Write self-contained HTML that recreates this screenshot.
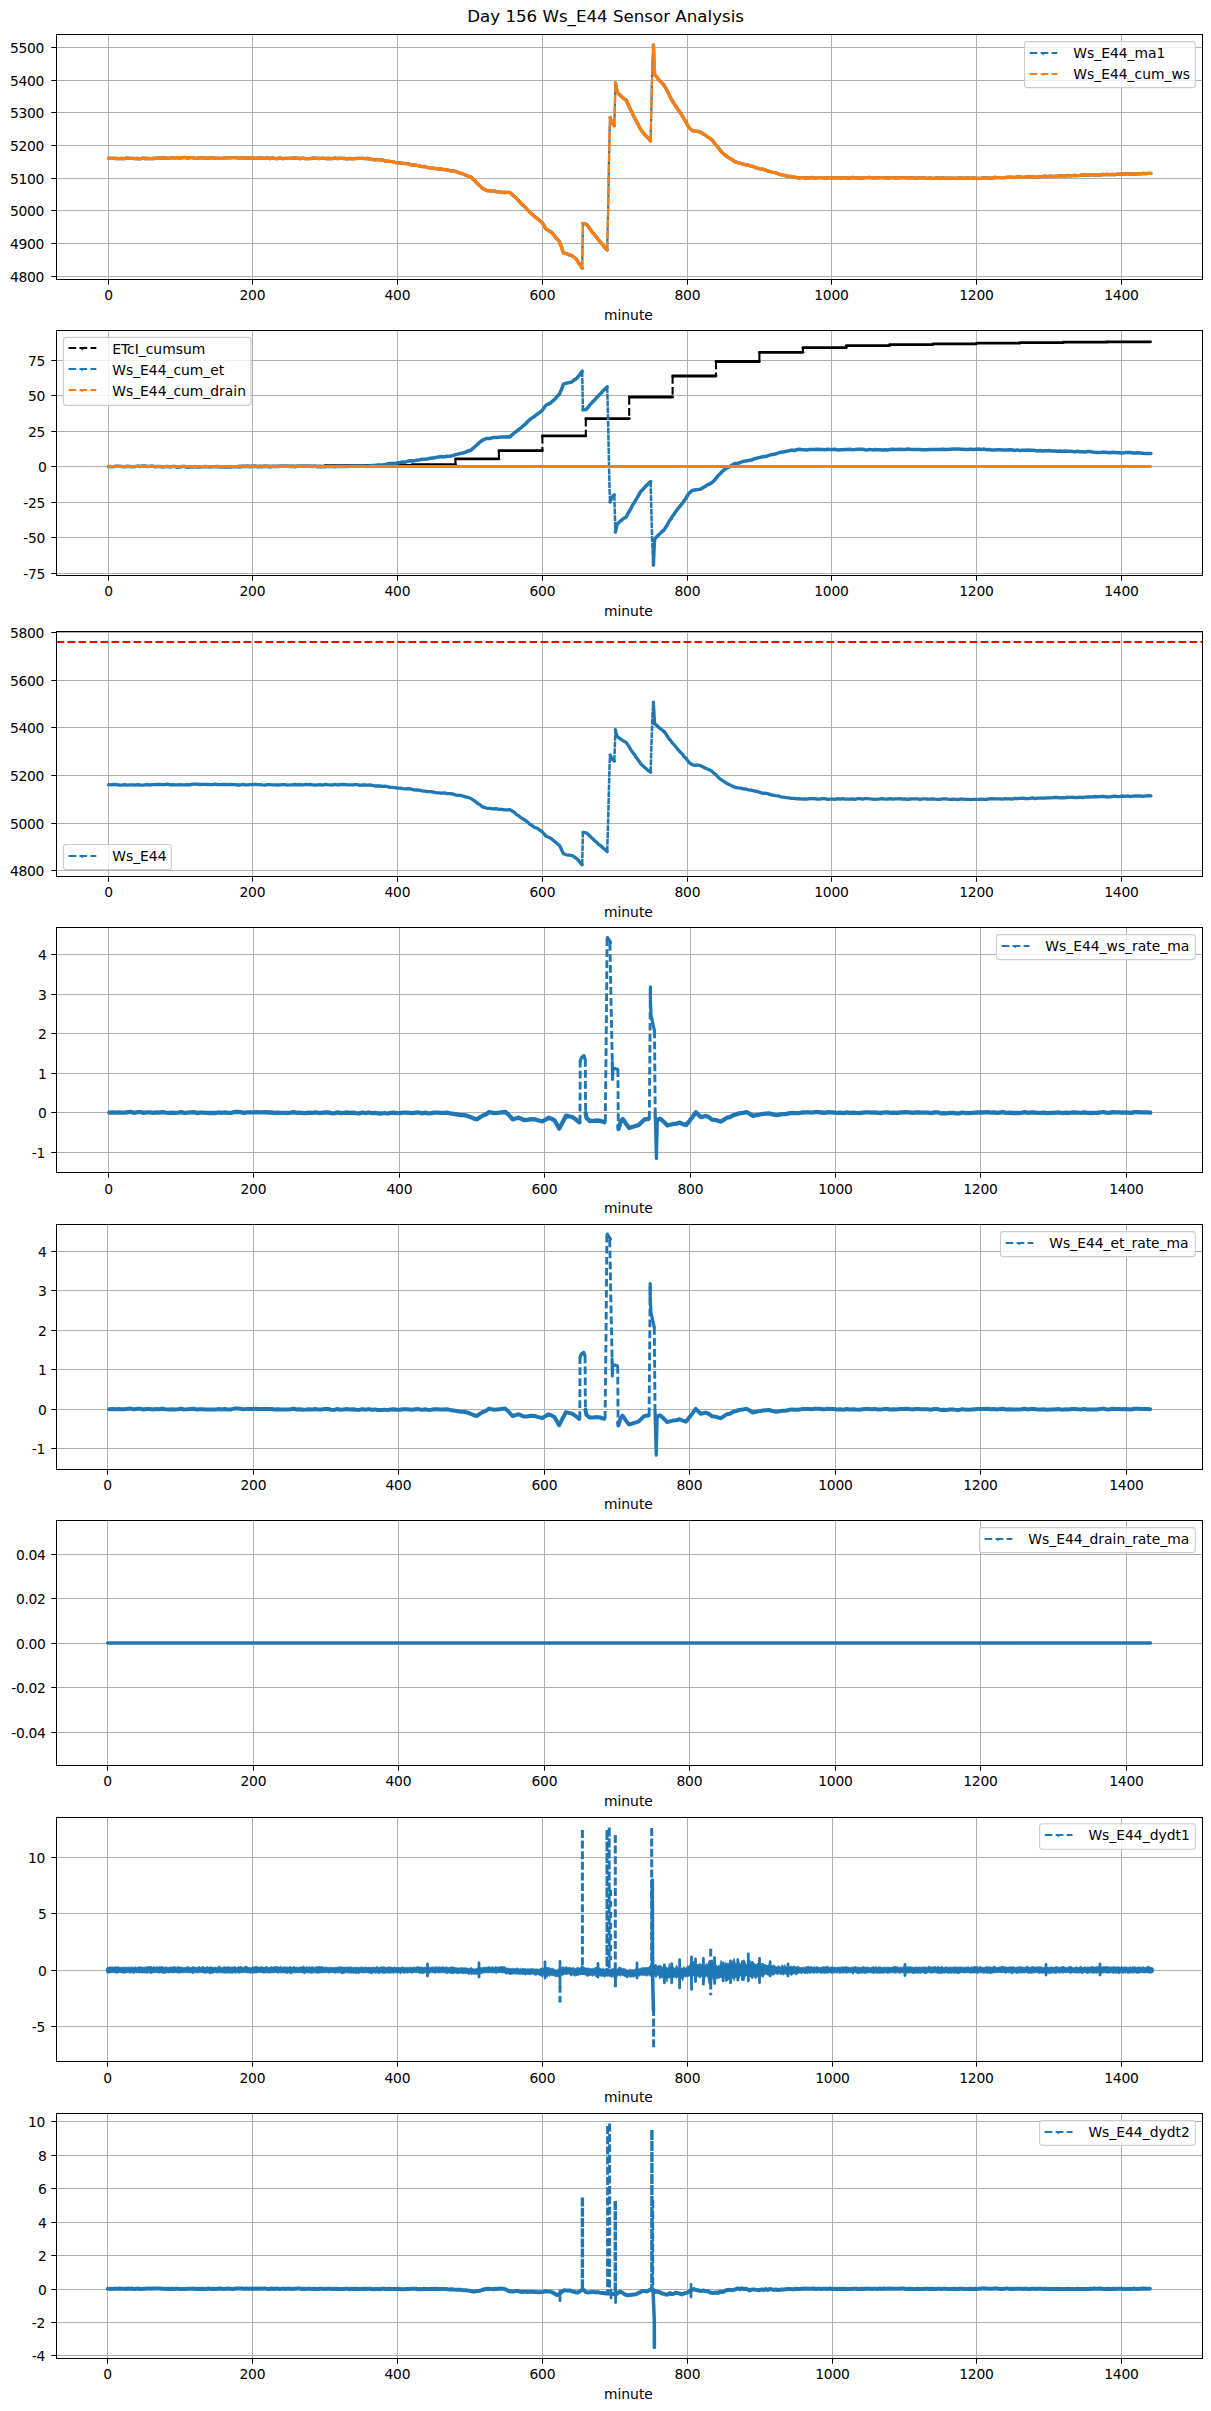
<!DOCTYPE html>
<html><head><meta charset="utf-8"><title>Day 156 Ws_E44 Sensor Analysis</title>
<style>html,body{margin:0;padding:0;background:#fff}svg{display:block}text{font-family:"DejaVu Sans","Liberation Sans",sans-serif;font-size:13.89px;fill:#000}.tk{letter-spacing:-0.3px}</style>
</head><body>
<svg width="1211" height="2411" viewBox="0 0 1211 2411">
<rect width="1211" height="2411" fill="#fff"/>
<text x="605.6" y="21.9" text-anchor="middle" style="font-size:16.67px">Day 156 Ws_E44 Sensor Analysis</text>
<line x1="108.5" y1="34.5" x2="108.5" y2="279.5" stroke="#b0b0b0" stroke-width="1"/>
<line x1="252.5" y1="34.5" x2="252.5" y2="279.5" stroke="#b0b0b0" stroke-width="1"/>
<line x1="397.5" y1="34.5" x2="397.5" y2="279.5" stroke="#b0b0b0" stroke-width="1"/>
<line x1="542.5" y1="34.5" x2="542.5" y2="279.5" stroke="#b0b0b0" stroke-width="1"/>
<line x1="687.5" y1="34.5" x2="687.5" y2="279.5" stroke="#b0b0b0" stroke-width="1"/>
<line x1="831.5" y1="34.5" x2="831.5" y2="279.5" stroke="#b0b0b0" stroke-width="1"/>
<line x1="976.5" y1="34.5" x2="976.5" y2="279.5" stroke="#b0b0b0" stroke-width="1"/>
<line x1="1121.5" y1="34.5" x2="1121.5" y2="279.5" stroke="#b0b0b0" stroke-width="1"/>
<line x1="56.5" y1="276.5" x2="1202.5" y2="276.5" stroke="#b0b0b0" stroke-width="1"/>
<line x1="56.5" y1="243.5" x2="1202.5" y2="243.5" stroke="#b0b0b0" stroke-width="1"/>
<line x1="56.5" y1="210.5" x2="1202.5" y2="210.5" stroke="#b0b0b0" stroke-width="1"/>
<line x1="56.5" y1="178.5" x2="1202.5" y2="178.5" stroke="#b0b0b0" stroke-width="1"/>
<line x1="56.5" y1="145.5" x2="1202.5" y2="145.5" stroke="#b0b0b0" stroke-width="1"/>
<line x1="56.5" y1="112.5" x2="1202.5" y2="112.5" stroke="#b0b0b0" stroke-width="1"/>
<line x1="56.5" y1="80.5" x2="1202.5" y2="80.5" stroke="#b0b0b0" stroke-width="1"/>
<line x1="56.5" y1="47.5" x2="1202.5" y2="47.5" stroke="#b0b0b0" stroke-width="1"/>
<polyline points="108.5,158.2 111.2,158.3 113.9,158.4 116.6,158.5 119.2,158.6 121.9,158.5 124.6,158.6 127.3,157.9 130,158.3 132.5,158.3 135,158.7 137.5,158.5 140,158.8 142.5,158.2 145,158.5 147.5,158.4 150,158.6 152.5,158.5 155,158.5 157.5,157.9 160,158 162.5,157.9 165,158 167.5,158.3 170,158.2 172.5,157.7 175,158.2 177.5,157.7 180,158.1 182.5,157.7 185,157.5 187.5,158.2 190,157.7 192.5,157.7 195,158.3 197.5,158.2 200,157.9 202.5,157.7 205,158.3 207.5,158 210,158.1 212.5,157.7 215,158.3 217.5,158.1 220,158.4 222.5,158.3 225,157.8 227.5,157.9 230,157.8 232.5,157.7 235,157.7 237.5,157.9 240,158.1 242.5,157.7 245,158.2 247.5,158 250,158.1 252.5,158 255,158.4 257.5,158.1 260,158 262.5,158.2 265,158.4 267.5,157.9 270,158.6 272.5,157.9 275,158.5 277.5,158.6 280,157.9 282.5,158.6 285,158.3 287.5,158.4 290,158.4 292.5,158 295,158 297.5,158.1 300,158.7 302.5,158.1 305,158.6 307.5,158.7 310,158.7 312.5,158.2 315,158.2 317.5,158.4 320,158.5 322.5,158 325,158.5 327.5,158.5 330,158.3 332.5,158.6 335,158 337.5,158.7 340,158.1 342.5,158.3 345,158.5 347.5,158.8 350,158.3 352.5,158.8 355,158.6 357.5,158.4 360,158.4 362.5,158.3 365,158.6 367.5,158.5 370,158.8 372.5,159.5 375,159.9 377.5,159.5 380,160 382.5,160 385,161.1 387.5,161.1 390,161.4 392.5,161.6 395,162.3 397.5,162.8 400,162.9 402.8,163.3 405.5,163.7 408.2,163.8 411,164.9 413.8,164.6 416.5,165.4 419.2,165.9 422,166.6 424.8,166.5 427.5,167.5 430.2,168.1 433,168.2 435.8,168.7 438.7,169.2 441.5,169 444.3,169.7 447.1,169.8 450,170.8 452.8,170.9 455.3,171.4 457.8,172.3 460.3,173.4 462.8,173.7 465.5,175.1 468.3,176.3 471,177.1 472.9,179 474.9,180.9 476.8,183 478.7,184.7 480.7,186.5 482.6,188.6 486.7,190.6 489.8,190.8 492.9,191 496,191.5 499.1,191.9 501.8,192.4 504.5,192.5 507.1,192.4 509.8,192.4 511.6,194.1 513.4,195.7 515.3,197.2 517.1,199.1 518.9,201 520.8,203.1 522.7,205.1 524.6,206.5 526.4,208.8 528.3,210.6 530.2,212.5 532.1,214.2 534.1,216 536.1,217.7 538,219.1 540,221 542,222.5 543.4,224.5 544.8,226.9 546.2,229.1 548.7,230.7 551.1,231.9 552.8,234 554.4,235.6 556.1,238 557.7,239.7 559.4,241.5 560.4,244.4 561.5,246.9 562.5,250.2 563.5,253 566.3,253.6 569,254.8 571.8,255.5 574.2,257.5 576.7,259.6 578.1,262 579.5,264 580.8,266.2 582.2,268.1" fill="none" stroke="#1f77b4" stroke-width="3.3" stroke-linejoin="round" stroke-linecap="round"/>
<polyline points="108.5,158.2 111.2,158.3 113.9,158.4 116.6,158.5 119.2,158.6 121.9,158.5 124.6,158.6 127.3,157.9 130,158.3 132.5,158.3 135,158.7 137.5,158.5 140,158.8 142.5,158.2 145,158.5 147.5,158.4 150,158.6 152.5,158.5 155,158.5 157.5,157.9 160,158 162.5,157.9 165,158 167.5,158.3 170,158.2 172.5,157.7 175,158.2 177.5,157.7 180,158.1 182.5,157.7 185,157.5 187.5,158.2 190,157.7 192.5,157.7 195,158.3 197.5,158.2 200,157.9 202.5,157.7 205,158.3 207.5,158 210,158.1 212.5,157.7 215,158.3 217.5,158.1 220,158.4 222.5,158.3 225,157.8 227.5,157.9 230,157.8 232.5,157.7 235,157.7 237.5,157.9 240,158.1 242.5,157.7 245,158.2 247.5,158 250,158.1 252.5,158 255,158.4 257.5,158.1 260,158 262.5,158.2 265,158.4 267.5,157.9 270,158.6 272.5,157.9 275,158.5 277.5,158.6 280,157.9 282.5,158.6 285,158.3 287.5,158.4 290,158.4 292.5,158 295,158 297.5,158.1 300,158.7 302.5,158.1 305,158.6 307.5,158.7 310,158.7 312.5,158.2 315,158.2 317.5,158.4 320,158.5 322.5,158 325,158.5 327.5,158.5 330,158.3 332.5,158.6 335,158 337.5,158.7 340,158.1 342.5,158.3 345,158.5 347.5,158.8 350,158.3 352.5,158.8 355,158.6 357.5,158.4 360,158.4 362.5,158.3 365,158.6 367.5,158.5 370,158.8 372.5,159.5 375,159.9 377.5,159.5 380,160 382.5,160 385,161.1 387.5,161.1 390,161.4 392.5,161.6 395,162.3 397.5,162.8 400,162.9 402.8,163.3 405.5,163.7 408.2,163.8 411,164.9 413.8,164.6 416.5,165.4 419.2,165.9 422,166.6 424.8,166.5 427.5,167.5 430.2,168.1 433,168.2 435.8,168.7 438.7,169.2 441.5,169 444.3,169.7 447.1,169.8 450,170.8 452.8,170.9 455.3,171.4 457.8,172.3 460.3,173.4 462.8,173.7 465.5,175.1 468.3,176.3 471,177.1 472.9,179 474.9,180.9 476.8,183 478.7,184.7 480.7,186.5 482.6,188.6 486.7,190.6 489.8,190.8 492.9,191 496,191.5 499.1,191.9 501.8,192.4 504.5,192.5 507.1,192.4 509.8,192.4 511.6,194.1 513.4,195.7 515.3,197.2 517.1,199.1 518.9,201 520.8,203.1 522.7,205.1 524.6,206.5 526.4,208.8 528.3,210.6 530.2,212.5 532.1,214.2 534.1,216 536.1,217.7 538,219.1 540,221 542,222.5 543.4,224.5 544.8,226.9 546.2,229.1 548.7,230.7 551.1,231.9 552.8,234 554.4,235.6 556.1,238 557.7,239.7 559.4,241.5 560.4,244.4 561.5,246.9 562.5,250.2 563.5,253 566.3,253.6 569,254.8 571.8,255.5 574.2,257.5 576.7,259.6 578.1,262 579.5,264 580.8,266.2 582.2,268.1" fill="none" stroke="#ff7f0e" stroke-width="3.3" stroke-linejoin="round" stroke-linecap="round"/>
<polyline points="582.2,268.1 582.9,223.5" fill="none" stroke="#1f77b4" stroke-width="2.2"/>
<polyline points="582.2,268.1 582.9,223.5" fill="none" stroke="#ff7f0e" stroke-width="2.2" stroke-dasharray="9 2"/>
<polyline points="582.9,223.5 586.5,224.3 588.2,226.3 589.8,228.7 591.5,231 593.1,233.2 594.8,235.1 596.6,237.1 598.3,239.6 600.1,241.7 601.9,243.7 603.7,246.1 605.4,248.2 607.2,249.9" fill="none" stroke="#1f77b4" stroke-width="3.3" stroke-linejoin="round" stroke-linecap="round"/>
<polyline points="582.9,223.5 586.5,224.3 588.2,226.3 589.8,228.7 591.5,231 593.1,233.2 594.8,235.1 596.6,237.1 598.3,239.6 600.1,241.7 601.9,243.7 603.7,246.1 605.4,248.2 607.2,249.9" fill="none" stroke="#ff7f0e" stroke-width="3.3" stroke-linejoin="round" stroke-linecap="round"/>
<polyline points="607.2,249.9 608,216 608.8,171.5 609.6,130 610.1,117.5" fill="none" stroke="#1f77b4" stroke-width="2.2"/>
<polyline points="607.2,249.9 608,216 608.8,171.5 609.6,130 610.1,117.5" fill="none" stroke="#ff7f0e" stroke-width="2.2" stroke-dasharray="9 2"/>
<polyline points="610.1,117.5 611,120.3 612,123 614.3,125.8" fill="none" stroke="#1f77b4" stroke-width="3.3" stroke-linejoin="round" stroke-linecap="round"/>
<polyline points="610.1,117.5 611,120.3 612,123 614.3,125.8" fill="none" stroke="#ff7f0e" stroke-width="3.3" stroke-linejoin="round" stroke-linecap="round"/>
<polyline points="614.3,125.8 615,100 615.4,82.8" fill="none" stroke="#1f77b4" stroke-width="2.2"/>
<polyline points="614.3,125.8 615,100 615.4,82.8" fill="none" stroke="#ff7f0e" stroke-width="2.2" stroke-dasharray="9 2"/>
<polyline points="615.4,82.8 616,85.9 616.5,88.6 617.1,91.9 619,94.2 621,96 623.6,98.4 626.2,100.2 627.3,102.5 628.4,105 629.5,107.4 630.6,109.7 631.7,111.6 632.8,114.2 634,116.7 635.1,118.8 636.3,121.1 637.5,123.1 638.7,125.5 639.8,127.9 641,129.9 642.7,132 644.3,134.1 646,136 648.3,138.1 650.6,141" fill="none" stroke="#1f77b4" stroke-width="3.3" stroke-linejoin="round" stroke-linecap="round"/>
<polyline points="615.4,82.8 616,85.9 616.5,88.6 617.1,91.9 619,94.2 621,96 623.6,98.4 626.2,100.2 627.3,102.5 628.4,105 629.5,107.4 630.6,109.7 631.7,111.6 632.8,114.2 634,116.7 635.1,118.8 636.3,121.1 637.5,123.1 638.7,125.5 639.8,127.9 641,129.9 642.7,132 644.3,134.1 646,136 648.3,138.1 650.6,141" fill="none" stroke="#ff7f0e" stroke-width="3.3" stroke-linejoin="round" stroke-linecap="round"/>
<polyline points="650.6,141 651.8,87.8 652.6,60 653.4,44.9" fill="none" stroke="#1f77b4" stroke-width="2.2"/>
<polyline points="650.6,141 651.8,87.8 652.6,60 653.4,44.9" fill="none" stroke="#ff7f0e" stroke-width="2.2" stroke-dasharray="9 2"/>
<polyline points="653.4,44.9 653.5,47.5 653.6,50.6 653.7,53.6 653.8,56.1 653.9,59.3 654,62 654.1,64.6 654.2,66.7 654.4,69.5 654.5,71.9 654.6,74.6 656.8,76.9 659,80 661.5,82.4 664.1,85.3 665.3,87.4 666.5,89.5 667.7,91.8 668.8,93.9 670,96.5 671.2,98.7 672.4,101 673.8,103.2 675.2,105.3 676.6,107.2 678.1,109.8 679.5,111.2 680.9,113.7 682.3,115.9 683.6,118 684.9,120.4 686.3,122.5 687.6,125.4 688.9,127.4 692.2,130.7 695,131.1 697.7,131.3 700.5,132.1 702.8,133.7 705.1,134.9 707.4,136.8 709.7,138.1 712,139.8 713.6,141.9 715.3,144.3 717,146.3 718.6,148 720.2,150.4 721.9,152.2 724.4,154.5 726.9,156.6 729.7,158.3 732.4,159.8 735.2,161.9 737.8,162.6 740.5,163.3 743.1,164.2 745.8,164.9 748.4,165.2 751.3,166.2 754.2,166.9 757.1,168.2 760,168.8 762.5,169.1 765,169.8 767.5,170.9 770,171.5 772.7,172.3 775.3,172.7 778,173.8 780.7,174.7 783.3,175.1 786,175.9 788.8,176.3 791.5,176.5 794.2,177 797,177.6 799.5,178 802.1,177.5 804.6,178 807.2,178 809.7,177.8 812.2,177.5 814.8,178.1 817.3,177.8 819.8,177.7 822.4,177.7 824.9,178.2 827.5,177.9 830,177.9 832.5,177.7 835,177.9 837.5,177.6 840,178 842.5,177.8 845,177.7 847.5,178.1 850,178.1 852.5,177.4 855,177.8 857.5,177.6 860,178.1 862.5,178 865,177.6 867.5,177.6 870,177.5 872.5,178.1 875,177.6 877.5,177.8 880,177.7 882.5,177.7 885,177.8 887.5,177.8 890,178 892.5,177.5 895,178 897.5,177.6 900,177.8 902.5,177.7 905,177.7 907.5,177.9 910,177.9 912.5,177.8 915,178.1 917.5,178 920,177.6 922.5,177.8 925,177.9 927.5,178.3 930,178 932.6,178.3 935.1,178.1 937.7,177.6 940.2,178.3 942.8,178 945.3,178.1 947.9,178.2 950.4,178.2 953,178.1 955.6,178.4 958.1,178 960.7,178 963.2,178.4 965.8,177.9 968.3,178 970.9,178.4 973.4,177.8 976,178.2 978.7,178.4 981.3,178.2 984,177.9 986.7,177.8 989.3,178.1 992,178.1 994.7,177.4 997.3,177.6 1000,177.6 1002.5,177.6 1005,177.5 1007.5,177.3 1010,177.1 1012.5,177.4 1015,177.5 1017.5,176.8 1020,176.9 1022.5,177.3 1025,177.2 1027.5,177 1030,176.5 1032.5,177 1035,177.1 1037.5,177.1 1040,176.6 1042.5,176.7 1045,176.1 1047.5,176.6 1050,176.1 1052.5,176.3 1055,176.5 1057.5,176.2 1060,175.7 1062.5,175.8 1065,176.2 1067.5,175.5 1070,175.8 1072.5,175.6 1075,175.3 1077.5,175.6 1080,175.4 1082.5,175 1085,174.9 1087.5,175.1 1090,174.8 1092.5,174.7 1095,175 1097.5,175.1 1100,175.1 1102.5,174.4 1105,174.6 1107.5,174.4 1110,174.6 1112.5,174.4 1115,174.7 1117.5,174.2 1120,174.2 1122.6,173.8 1125.2,174.2 1127.7,173.7 1130.3,174 1132.9,173.9 1135.5,174.1 1138,173.8 1140.6,173.8 1143.2,173.4 1145.8,173.6 1148.3,173.3 1150.9,173.4" fill="none" stroke="#1f77b4" stroke-width="3.3" stroke-linejoin="round" stroke-linecap="round"/>
<polyline points="653.4,44.9 653.5,47.5 653.6,50.6 653.7,53.6 653.8,56.1 653.9,59.3 654,62 654.1,64.6 654.2,66.7 654.4,69.5 654.5,71.9 654.6,74.6 656.8,76.9 659,80 661.5,82.4 664.1,85.3 665.3,87.4 666.5,89.5 667.7,91.8 668.8,93.9 670,96.5 671.2,98.7 672.4,101 673.8,103.2 675.2,105.3 676.6,107.2 678.1,109.8 679.5,111.2 680.9,113.7 682.3,115.9 683.6,118 684.9,120.4 686.3,122.5 687.6,125.4 688.9,127.4 692.2,130.7 695,131.1 697.7,131.3 700.5,132.1 702.8,133.7 705.1,134.9 707.4,136.8 709.7,138.1 712,139.8 713.6,141.9 715.3,144.3 717,146.3 718.6,148 720.2,150.4 721.9,152.2 724.4,154.5 726.9,156.6 729.7,158.3 732.4,159.8 735.2,161.9 737.8,162.6 740.5,163.3 743.1,164.2 745.8,164.9 748.4,165.2 751.3,166.2 754.2,166.9 757.1,168.2 760,168.8 762.5,169.1 765,169.8 767.5,170.9 770,171.5 772.7,172.3 775.3,172.7 778,173.8 780.7,174.7 783.3,175.1 786,175.9 788.8,176.3 791.5,176.5 794.2,177 797,177.6 799.5,178 802.1,177.5 804.6,178 807.2,178 809.7,177.8 812.2,177.5 814.8,178.1 817.3,177.8 819.8,177.7 822.4,177.7 824.9,178.2 827.5,177.9 830,177.9 832.5,177.7 835,177.9 837.5,177.6 840,178 842.5,177.8 845,177.7 847.5,178.1 850,178.1 852.5,177.4 855,177.8 857.5,177.6 860,178.1 862.5,178 865,177.6 867.5,177.6 870,177.5 872.5,178.1 875,177.6 877.5,177.8 880,177.7 882.5,177.7 885,177.8 887.5,177.8 890,178 892.5,177.5 895,178 897.5,177.6 900,177.8 902.5,177.7 905,177.7 907.5,177.9 910,177.9 912.5,177.8 915,178.1 917.5,178 920,177.6 922.5,177.8 925,177.9 927.5,178.3 930,178 932.6,178.3 935.1,178.1 937.7,177.6 940.2,178.3 942.8,178 945.3,178.1 947.9,178.2 950.4,178.2 953,178.1 955.6,178.4 958.1,178 960.7,178 963.2,178.4 965.8,177.9 968.3,178 970.9,178.4 973.4,177.8 976,178.2 978.7,178.4 981.3,178.2 984,177.9 986.7,177.8 989.3,178.1 992,178.1 994.7,177.4 997.3,177.6 1000,177.6 1002.5,177.6 1005,177.5 1007.5,177.3 1010,177.1 1012.5,177.4 1015,177.5 1017.5,176.8 1020,176.9 1022.5,177.3 1025,177.2 1027.5,177 1030,176.5 1032.5,177 1035,177.1 1037.5,177.1 1040,176.6 1042.5,176.7 1045,176.1 1047.5,176.6 1050,176.1 1052.5,176.3 1055,176.5 1057.5,176.2 1060,175.7 1062.5,175.8 1065,176.2 1067.5,175.5 1070,175.8 1072.5,175.6 1075,175.3 1077.5,175.6 1080,175.4 1082.5,175 1085,174.9 1087.5,175.1 1090,174.8 1092.5,174.7 1095,175 1097.5,175.1 1100,175.1 1102.5,174.4 1105,174.6 1107.5,174.4 1110,174.6 1112.5,174.4 1115,174.7 1117.5,174.2 1120,174.2 1122.6,173.8 1125.2,174.2 1127.7,173.7 1130.3,174 1132.9,173.9 1135.5,174.1 1138,173.8 1140.6,173.8 1143.2,173.4 1145.8,173.6 1148.3,173.3 1150.9,173.4" fill="none" stroke="#ff7f0e" stroke-width="3.3" stroke-linejoin="round" stroke-linecap="round"/>
<rect x="56.5" y="34.5" width="1146" height="245" fill="none" stroke="#000" stroke-width="1"/>
<line x1="108.5" y1="279.5" x2="108.5" y2="284.7" stroke="#000" stroke-width="1"/>
<text x="108.4" y="300.1" text-anchor="middle" class="tk">0</text>
<line x1="252.5" y1="279.5" x2="252.5" y2="284.7" stroke="#000" stroke-width="1"/>
<text x="252.4" y="300.1" text-anchor="middle" class="tk">200</text>
<line x1="397.5" y1="279.5" x2="397.5" y2="284.7" stroke="#000" stroke-width="1"/>
<text x="397.4" y="300.1" text-anchor="middle" class="tk">400</text>
<line x1="542.5" y1="279.5" x2="542.5" y2="284.7" stroke="#000" stroke-width="1"/>
<text x="542.4" y="300.1" text-anchor="middle" class="tk">600</text>
<line x1="687.5" y1="279.5" x2="687.5" y2="284.7" stroke="#000" stroke-width="1"/>
<text x="687.4" y="300.1" text-anchor="middle" class="tk">800</text>
<line x1="831.5" y1="279.5" x2="831.5" y2="284.7" stroke="#000" stroke-width="1"/>
<text x="831.4" y="300.1" text-anchor="middle" class="tk">1000</text>
<line x1="976.5" y1="279.5" x2="976.5" y2="284.7" stroke="#000" stroke-width="1"/>
<text x="976.4" y="300.1" text-anchor="middle" class="tk">1200</text>
<line x1="1121.5" y1="279.5" x2="1121.5" y2="284.7" stroke="#000" stroke-width="1"/>
<text x="1121.4" y="300.1" text-anchor="middle" class="tk">1400</text>
<line x1="51.3" y1="276.5" x2="56.5" y2="276.5" stroke="#000" stroke-width="1"/>
<text x="44" y="281.5" text-anchor="end" class="tk">4800</text>
<line x1="51.3" y1="243.5" x2="56.5" y2="243.5" stroke="#000" stroke-width="1"/>
<text x="44" y="248.5" text-anchor="end" class="tk">4900</text>
<line x1="51.3" y1="210.5" x2="56.5" y2="210.5" stroke="#000" stroke-width="1"/>
<text x="44" y="215.5" text-anchor="end" class="tk">5000</text>
<line x1="51.3" y1="178.5" x2="56.5" y2="178.5" stroke="#000" stroke-width="1"/>
<text x="44" y="183.5" text-anchor="end" class="tk">5100</text>
<line x1="51.3" y1="145.5" x2="56.5" y2="145.5" stroke="#000" stroke-width="1"/>
<text x="44" y="150.5" text-anchor="end" class="tk">5200</text>
<line x1="51.3" y1="112.5" x2="56.5" y2="112.5" stroke="#000" stroke-width="1"/>
<text x="44" y="117.5" text-anchor="end" class="tk">5300</text>
<line x1="51.3" y1="80.5" x2="56.5" y2="80.5" stroke="#000" stroke-width="1"/>
<text x="44" y="85.5" text-anchor="end" class="tk">5400</text>
<line x1="51.3" y1="47.5" x2="56.5" y2="47.5" stroke="#000" stroke-width="1"/>
<text x="44" y="52.5" text-anchor="end" class="tk">5500</text>
<text x="628.4" y="319.5" text-anchor="middle">minute</text>
<rect x="1024.5" y="41.6" width="170.8" height="46" rx="2.8" fill="#fff" fill-opacity="0.8" stroke="#ccc" stroke-width="1.1"/>
<line x1="1029.6" y1="53" x2="1057.4" y2="53" stroke="#1f77b4" stroke-width="2.1" stroke-dasharray="7.7 3.3"/>
<path d="M1042 53.9h2.4l-1.2 1.4z" fill="#1f77b4"/>
<text x="1073.3" y="58.3">Ws_E44_ma1</text>
<line x1="1029.6" y1="74" x2="1057.4" y2="74" stroke="#ff7f0e" stroke-width="2.1" stroke-dasharray="7.7 3.3"/>
<path d="M1042 74.9h2.4l-1.2 1.4z" fill="#ff7f0e"/>
<text x="1073.3" y="79.2">Ws_E44_cum_ws</text>
<line x1="108.5" y1="330.5" x2="108.5" y2="575.5" stroke="#b0b0b0" stroke-width="1"/>
<line x1="252.5" y1="330.5" x2="252.5" y2="575.5" stroke="#b0b0b0" stroke-width="1"/>
<line x1="397.5" y1="330.5" x2="397.5" y2="575.5" stroke="#b0b0b0" stroke-width="1"/>
<line x1="542.5" y1="330.5" x2="542.5" y2="575.5" stroke="#b0b0b0" stroke-width="1"/>
<line x1="687.5" y1="330.5" x2="687.5" y2="575.5" stroke="#b0b0b0" stroke-width="1"/>
<line x1="831.5" y1="330.5" x2="831.5" y2="575.5" stroke="#b0b0b0" stroke-width="1"/>
<line x1="976.5" y1="330.5" x2="976.5" y2="575.5" stroke="#b0b0b0" stroke-width="1"/>
<line x1="1121.5" y1="330.5" x2="1121.5" y2="575.5" stroke="#b0b0b0" stroke-width="1"/>
<line x1="56.5" y1="573.5" x2="1202.5" y2="573.5" stroke="#b0b0b0" stroke-width="1"/>
<line x1="56.5" y1="537.5" x2="1202.5" y2="537.5" stroke="#b0b0b0" stroke-width="1"/>
<line x1="56.5" y1="502.5" x2="1202.5" y2="502.5" stroke="#b0b0b0" stroke-width="1"/>
<line x1="56.5" y1="466.5" x2="1202.5" y2="466.5" stroke="#b0b0b0" stroke-width="1"/>
<line x1="56.5" y1="431.5" x2="1202.5" y2="431.5" stroke="#b0b0b0" stroke-width="1"/>
<line x1="56.5" y1="395.5" x2="1202.5" y2="395.5" stroke="#b0b0b0" stroke-width="1"/>
<line x1="56.5" y1="360.5" x2="1202.5" y2="360.5" stroke="#b0b0b0" stroke-width="1"/>
<polyline points="108.2,466.6 238.4,466.6" fill="none" stroke="#000" stroke-width="2.8" stroke-linejoin="round" stroke-linecap="round"/>
<polyline points="238.4,466.1 325.3,466.1" fill="none" stroke="#000" stroke-width="2.8" stroke-linejoin="round" stroke-linecap="round"/>
<polyline points="325.3,465.7 368.7,465.7" fill="none" stroke="#000" stroke-width="2.8" stroke-linejoin="round" stroke-linecap="round"/>
<polyline points="368.7,465.3 412.1,465.3" fill="none" stroke="#000" stroke-width="2.8" stroke-linejoin="round" stroke-linecap="round"/>
<polyline points="412.1,464.7 455.5,464.7" fill="none" stroke="#000" stroke-width="2.8" stroke-linejoin="round" stroke-linecap="round"/>
<line x1="455.5" y1="458.9" x2="455.5" y2="464.7" stroke="#000" stroke-width="2.1" stroke-dasharray="7.7 3.3"/>
<polyline points="455.5,458.9 498.9,458.9" fill="none" stroke="#000" stroke-width="2.8" stroke-linejoin="round" stroke-linecap="round"/>
<line x1="498.9" y1="450.7" x2="498.9" y2="458.9" stroke="#000" stroke-width="2.1" stroke-dasharray="7.7 3.3"/>
<polyline points="498.9,450.7 542.4,450.7" fill="none" stroke="#000" stroke-width="2.8" stroke-linejoin="round" stroke-linecap="round"/>
<line x1="542.4" y1="435.9" x2="542.4" y2="450.7" stroke="#000" stroke-width="2.1" stroke-dasharray="7.7 3.3"/>
<polyline points="542.4,435.9 585.8,435.9" fill="none" stroke="#000" stroke-width="2.8" stroke-linejoin="round" stroke-linecap="round"/>
<line x1="585.8" y1="418.7" x2="585.8" y2="435.9" stroke="#000" stroke-width="2.1" stroke-dasharray="7.7 3.3"/>
<polyline points="585.8,418.7 629.2,418.7" fill="none" stroke="#000" stroke-width="2.8" stroke-linejoin="round" stroke-linecap="round"/>
<line x1="629.2" y1="397" x2="629.2" y2="418.7" stroke="#000" stroke-width="2.1" stroke-dasharray="7.7 3.3"/>
<polyline points="629.2,397 672.6,397" fill="none" stroke="#000" stroke-width="2.8" stroke-linejoin="round" stroke-linecap="round"/>
<line x1="672.6" y1="376" x2="672.6" y2="397" stroke="#000" stroke-width="2.1" stroke-dasharray="7.7 3.3"/>
<polyline points="672.6,376 716,376" fill="none" stroke="#000" stroke-width="2.8" stroke-linejoin="round" stroke-linecap="round"/>
<line x1="716" y1="361.5" x2="716" y2="376" stroke="#000" stroke-width="2.1" stroke-dasharray="7.7 3.3"/>
<polyline points="716,361.5 759.4,361.5" fill="none" stroke="#000" stroke-width="2.8" stroke-linejoin="round" stroke-linecap="round"/>
<line x1="759.4" y1="352.3" x2="759.4" y2="361.5" stroke="#000" stroke-width="2.1" stroke-dasharray="7.7 3.3"/>
<polyline points="759.4,352.3 802.9,352.3" fill="none" stroke="#000" stroke-width="2.8" stroke-linejoin="round" stroke-linecap="round"/>
<line x1="802.9" y1="347.7" x2="802.9" y2="352.3" stroke="#000" stroke-width="2.1" stroke-dasharray="7.7 3.3"/>
<polyline points="802.9,347.7 846.3,347.7" fill="none" stroke="#000" stroke-width="2.8" stroke-linejoin="round" stroke-linecap="round"/>
<polyline points="846.3,345.6 889.7,345.6" fill="none" stroke="#000" stroke-width="2.8" stroke-linejoin="round" stroke-linecap="round"/>
<polyline points="889.7,344.6 933.1,344.6" fill="none" stroke="#000" stroke-width="2.8" stroke-linejoin="round" stroke-linecap="round"/>
<polyline points="933.1,343.9 976.5,343.9" fill="none" stroke="#000" stroke-width="2.8" stroke-linejoin="round" stroke-linecap="round"/>
<polyline points="976.5,343.2 1019.9,343.2" fill="none" stroke="#000" stroke-width="2.8" stroke-linejoin="round" stroke-linecap="round"/>
<polyline points="1019.9,342.6 1063.4,342.6" fill="none" stroke="#000" stroke-width="2.8" stroke-linejoin="round" stroke-linecap="round"/>
<polyline points="1063.4,342.2 1106.8,342.2" fill="none" stroke="#000" stroke-width="2.8" stroke-linejoin="round" stroke-linecap="round"/>
<polyline points="1106.8,341.8 1150.5,341.8" fill="none" stroke="#000" stroke-width="2.8" stroke-linejoin="round" stroke-linecap="round"/>
<polyline points="108.5,466.6 111.2,466.8 113.9,466.6 116.6,466.3 119.2,466.3 121.9,466.4 124.6,466.7 127.3,466.3 130,466.5 132.5,466.7 135,466.6 137.5,466.1 140,466.5 142.5,466 145,466 147.5,466.4 150,466.3 152.5,466.1 155,466.7 157.5,466.5 160,466.5 162.5,466.9 165,466.8 167.5,466.4 170,467 172.5,466.4 175,466.5 177.5,467.2 180,467 182.5,466.6 185,466.5 187.5,467.2 190,467 192.5,467.1 195,466.6 197.5,467 200,466.9 202.5,466.7 205,466.6 207.5,466.7 210,466.9 212.5,466.7 215,466.7 217.5,466.5 220,467.1 222.5,466.9 225,467 227.5,466.7 230,467 232.5,466.8 235,466.8 237.5,466.8 240,466.9 242.5,466.6 245,466.4 247.5,466.3 250,466.7 252.5,466.4 255,466.3 257.5,466.9 260,466.6 262.5,466.8 265,466.2 267.5,466.5 270,466.9 272.5,466.6 275,466.5 277.5,466.5 280,466.2 282.5,466.2 285,466.2 287.5,466.3 290,466.4 292.5,466.3 295,466.7 297.5,466.2 300,466.3 302.5,466.3 305,466.2 307.5,466.3 310,466.3 312.5,466.5 315,466.1 317.5,466.8 320,466.4 322.5,466.8 325,466.7 327.5,466.6 330,466.5 332.5,466.5 335,466.8 337.5,466.2 340,466.6 342.5,466.3 345,466.5 347.5,466.6 350,466.1 352.5,466.1 355,465.9 357.5,466.1 360,466 362.5,466.2 365,466.3 367.5,466.4 370,465.7 372.5,465.5 375,465.4 377.5,465.1 380,465 382.5,464.9 385,464.6 387.5,463.8 390,463.6 392.5,463.6 395,463.5 397.5,462.9 400,462.5 402.8,462.1 405.5,462.2 408.2,461 411,460.7 413.8,460.9 416.5,460.3 419.2,459.9 422,459.2 424.8,459.2 427.5,459.1 430.2,458.3 433,457.9 435.8,457.5 438.7,456.9 441.5,456.6 444.3,456.9 447.1,456.2 450,456.2 452.8,455.6 455.3,454.6 457.8,454.1 460.3,453.4 462.8,453.1 465.5,452.1 468.3,450.8 471,450.2 472.9,448.3 474.9,446.8 476.8,445 478.7,443.2 480.7,441.5 482.6,440.2 486.7,438.4 489.8,438.5 492.9,437.6 496,437.6 499.1,437.3 501.8,437.1 504.5,437.1 507.1,436.7 509.8,436.9 512.1,434.9 514.4,432.8 516.6,431.3 518.9,429.4 521.1,427.8 523.3,425.7 525.5,424 527.7,421.5 529.9,419.5 532.1,417.9 534.6,416.2 537,414.3 539.5,412.6 542,410.7 544.1,407.8 546.2,405 548.7,403.9 551.1,402.6 553.2,400.6 555.3,398.7 557.3,396.1 559.4,394.2 560.4,391.7 561.5,389.5 562.5,386.5 563.5,384.2 566.3,383.2 569,382.6 571.8,382 574.2,379.9 576.7,378.5 578.5,376.2 580.4,373.8 582.2,371.1" fill="none" stroke="#1f77b4" stroke-width="3.5" stroke-linejoin="round" stroke-linecap="round"/>
<polyline points="582.2,371.1 582.9,409.9" fill="none" stroke="#1f77b4" stroke-width="2.5" stroke-dasharray="6 0.8"/>
<polyline points="582.9,409.9 586.5,409.2 588.2,407.1 589.8,405.1 591.5,403.2 593.1,401.4 594.8,399.8 596.6,397.6 598.3,396 600.1,394.3 601.9,392.2 603.7,390.2 605.4,388.9 607.2,386.9" fill="none" stroke="#1f77b4" stroke-width="3.5" stroke-linejoin="round" stroke-linecap="round"/>
<polyline points="607.2,386.9 608,416.4 608.8,455 609.6,491.1 610.1,502" fill="none" stroke="#1f77b4" stroke-width="2.5" stroke-dasharray="6 0.8"/>
<polyline points="610.1,502 611,499.2 612,497.2 614.3,494.8" fill="none" stroke="#1f77b4" stroke-width="3.5" stroke-linejoin="round" stroke-linecap="round"/>
<polyline points="614.3,494.8 615,517.2 615.4,532.1" fill="none" stroke="#1f77b4" stroke-width="2.5" stroke-dasharray="6 0.8"/>
<polyline points="615.4,532.1 616,529.2 616.5,526.7 617.1,524.2 619,522.3 621,520.7 623.6,518.5 626.2,517 627.5,514.5 628.8,512 630.2,509.9 631.5,507.3 632.8,504.8 634.2,502.9 635.5,500.4 636.9,498.2 638.3,495.8 639.6,493.4 641,491.2 643.5,488.8 646,485.9 648.3,483.8 650.6,481.5" fill="none" stroke="#1f77b4" stroke-width="3.5" stroke-linejoin="round" stroke-linecap="round"/>
<polyline points="650.6,481.5 651.8,527.8 652.6,551.9 653.4,565.1" fill="none" stroke="#1f77b4" stroke-width="2.5" stroke-dasharray="6 0.8"/>
<polyline points="653.4,565.1 653.5,562.5 653.6,559.3 653.8,556.3 653.9,553 654,550.2 654.1,547.7 654.3,544.6 654.5,541.7 654.6,539.3 656.8,536.6 659,534.6 661.5,532 664.1,530 665.5,527.5 666.9,525.5 668.2,523 669.6,520.5 671,518.8 672.4,516.3 674,514.2 675.7,511.6 677.3,509.5 679,507.4 680.6,505.4 682.3,503.4 683.9,501.1 685.6,498.7 687.2,496 688.9,493.4 692.2,490.5 695,489.9 697.7,489.6 700.5,489.3 702.8,487.8 705.1,486.5 707.4,484.9 709.7,484 712,482.6 714,480.7 716,478.5 717.9,475.8 719.9,474 721.9,471.8 724.4,469.6 726.9,468 729.7,466.6 732.4,464.9 735.2,463.4 737.8,463.2 740.5,462.5 743.1,461.4 745.8,460.9 748.4,460.5 751.3,460.1 754.2,458.9 757.1,458.1 760,457.4 762.5,456.8 765,456.4 767.5,456 770,455 772.7,454.4 775.3,454.1 778,453.2 780.7,452.2 783.3,452.1 786,451.2 788.8,450.8 791.5,450.1 794.2,450.5 797,449.7 799.5,449.3 802.1,449.8 804.6,449.7 807.2,450 809.7,449.6 812.2,449.4 814.8,449.4 817.3,449.3 819.8,449.6 822.4,449.4 824.9,449.7 827.5,449.3 830,449.5 832.5,449.4 835,449.3 837.5,449.9 840,449.8 842.5,449.8 845,449.6 847.5,449.5 850,449.3 852.5,449.8 855,449.6 857.5,449.2 860,449.3 862.5,449.3 865,449.8 867.5,449.9 870,449.4 872.5,449.9 875,449.5 877.5,449.8 880,449.7 882.5,449.9 885,449.7 887.5,449.9 890,449.5 892.5,449.2 895,449.6 897.5,449.6 900,449.3 902.5,449.4 905,449.4 907.5,449.1 910,449.3 912.5,449.4 915,449.5 917.5,449.6 920,449.4 922.5,449.8 925,449.7 927.5,449.7 930,449.4 932.6,449.5 935.1,449.5 937.7,449.4 940.2,449.6 942.8,449.2 945.3,449.4 947.9,449.5 950.4,449.3 953,449.1 955.6,449 958.1,449 960.7,449.2 963.2,449.3 965.8,449.5 968.3,449.4 970.9,449.1 973.4,449.6 976,449.2 978.7,449.1 981.3,449.5 984,449.1 986.7,449.7 989.3,449.6 992,449.9 994.7,449.9 997.3,449.8 1000,449.7 1002.5,450.1 1005,450 1007.5,450 1010,449.7 1012.5,450 1015,450.4 1017.5,449.9 1020,450.6 1022.5,450.3 1025,450.2 1027.5,449.9 1030,450.3 1032.5,450.2 1035,450.6 1037.5,450.9 1040,450.6 1042.5,451 1045,450.8 1047.5,450.7 1050,450.6 1052.5,451.1 1055,451 1057.5,451.2 1060,451 1062.5,451.5 1065,451 1067.5,451.2 1070,451.2 1072.5,451.6 1075,451.8 1077.5,451.3 1080,451.7 1082.5,451.8 1085,452 1087.5,451.6 1090,451.6 1092.5,452 1095,452.3 1097.5,452.4 1100,452.4 1102.5,452.2 1105,452.2 1107.5,452.4 1110,452.8 1112.5,452.3 1115,452.4 1117.5,452.7 1120,452.7 1122.6,453.1 1125.2,452.6 1127.7,452.5 1130.3,452.6 1132.9,453 1135.5,453.1 1138,452.8 1140.6,452.9 1143.2,453.3 1145.8,453.4 1148.3,453.5 1150.9,453.4" fill="none" stroke="#1f77b4" stroke-width="3.5" stroke-linejoin="round" stroke-linecap="round"/>
<polyline points="108.2,466.6 1150.5,466.6" fill="none" stroke="#ff7f0e" stroke-width="3.0" stroke-linejoin="round" stroke-linecap="round"/>
<rect x="56.5" y="330.5" width="1146" height="245" fill="none" stroke="#000" stroke-width="1"/>
<line x1="108.5" y1="575.5" x2="108.5" y2="580.7" stroke="#000" stroke-width="1"/>
<text x="108.4" y="596.1" text-anchor="middle" class="tk">0</text>
<line x1="252.5" y1="575.5" x2="252.5" y2="580.7" stroke="#000" stroke-width="1"/>
<text x="252.4" y="596.1" text-anchor="middle" class="tk">200</text>
<line x1="397.5" y1="575.5" x2="397.5" y2="580.7" stroke="#000" stroke-width="1"/>
<text x="397.4" y="596.1" text-anchor="middle" class="tk">400</text>
<line x1="542.5" y1="575.5" x2="542.5" y2="580.7" stroke="#000" stroke-width="1"/>
<text x="542.4" y="596.1" text-anchor="middle" class="tk">600</text>
<line x1="687.5" y1="575.5" x2="687.5" y2="580.7" stroke="#000" stroke-width="1"/>
<text x="687.4" y="596.1" text-anchor="middle" class="tk">800</text>
<line x1="831.5" y1="575.5" x2="831.5" y2="580.7" stroke="#000" stroke-width="1"/>
<text x="831.4" y="596.1" text-anchor="middle" class="tk">1000</text>
<line x1="976.5" y1="575.5" x2="976.5" y2="580.7" stroke="#000" stroke-width="1"/>
<text x="976.4" y="596.1" text-anchor="middle" class="tk">1200</text>
<line x1="1121.5" y1="575.5" x2="1121.5" y2="580.7" stroke="#000" stroke-width="1"/>
<text x="1121.4" y="596.1" text-anchor="middle" class="tk">1400</text>
<line x1="51.3" y1="573.5" x2="56.5" y2="573.5" stroke="#000" stroke-width="1"/>
<text x="45.1" y="578.5" text-anchor="end" class="tk">-75</text>
<line x1="51.3" y1="537.5" x2="56.5" y2="537.5" stroke="#000" stroke-width="1"/>
<text x="45.1" y="542.5" text-anchor="end" class="tk">-50</text>
<line x1="51.3" y1="502.5" x2="56.5" y2="502.5" stroke="#000" stroke-width="1"/>
<text x="45.1" y="507.5" text-anchor="end" class="tk">-25</text>
<line x1="51.3" y1="466.5" x2="56.5" y2="466.5" stroke="#000" stroke-width="1"/>
<text x="46.5" y="471.5" text-anchor="end" class="tk">0</text>
<line x1="51.3" y1="431.5" x2="56.5" y2="431.5" stroke="#000" stroke-width="1"/>
<text x="45.1" y="436.5" text-anchor="end" class="tk">25</text>
<line x1="51.3" y1="395.5" x2="56.5" y2="395.5" stroke="#000" stroke-width="1"/>
<text x="45.1" y="400.5" text-anchor="end" class="tk">50</text>
<line x1="51.3" y1="360.5" x2="56.5" y2="360.5" stroke="#000" stroke-width="1"/>
<text x="45.1" y="365.5" text-anchor="end" class="tk">75</text>
<text x="628.4" y="615.5" text-anchor="middle">minute</text>
<rect x="63.4" y="337.4" width="187.5" height="68" rx="2.8" fill="#fff" fill-opacity="0.8" stroke="#ccc" stroke-width="1.1"/>
<line x1="68.5" y1="348" x2="96.3" y2="348" stroke="#000" stroke-width="2.1" stroke-dasharray="7.7 3.3"/>
<path d="M80.9 348.9h2.4l-1.2 1.4z" fill="#000"/>
<text x="112.2" y="354.1">ETcI_cumsum</text>
<line x1="68.5" y1="369" x2="96.3" y2="369" stroke="#1f77b4" stroke-width="2.1" stroke-dasharray="7.7 3.3"/>
<path d="M80.9 369.9h2.4l-1.2 1.4z" fill="#1f77b4"/>
<text x="112.2" y="375">Ws_E44_cum_et</text>
<line x1="68.5" y1="390" x2="96.3" y2="390" stroke="#ff7f0e" stroke-width="2.1" stroke-dasharray="7.7 3.3"/>
<path d="M80.9 390.9h2.4l-1.2 1.4z" fill="#ff7f0e"/>
<text x="112.2" y="395.9">Ws_E44_cum_drain</text>
<line x1="108.5" y1="631.5" x2="108.5" y2="876.5" stroke="#b0b0b0" stroke-width="1"/>
<line x1="252.5" y1="631.5" x2="252.5" y2="876.5" stroke="#b0b0b0" stroke-width="1"/>
<line x1="397.5" y1="631.5" x2="397.5" y2="876.5" stroke="#b0b0b0" stroke-width="1"/>
<line x1="542.5" y1="631.5" x2="542.5" y2="876.5" stroke="#b0b0b0" stroke-width="1"/>
<line x1="687.5" y1="631.5" x2="687.5" y2="876.5" stroke="#b0b0b0" stroke-width="1"/>
<line x1="831.5" y1="631.5" x2="831.5" y2="876.5" stroke="#b0b0b0" stroke-width="1"/>
<line x1="976.5" y1="631.5" x2="976.5" y2="876.5" stroke="#b0b0b0" stroke-width="1"/>
<line x1="1121.5" y1="631.5" x2="1121.5" y2="876.5" stroke="#b0b0b0" stroke-width="1"/>
<line x1="56.5" y1="870.5" x2="1202.5" y2="870.5" stroke="#b0b0b0" stroke-width="1"/>
<line x1="56.5" y1="823.5" x2="1202.5" y2="823.5" stroke="#b0b0b0" stroke-width="1"/>
<line x1="56.5" y1="775.5" x2="1202.5" y2="775.5" stroke="#b0b0b0" stroke-width="1"/>
<line x1="56.5" y1="727.5" x2="1202.5" y2="727.5" stroke="#b0b0b0" stroke-width="1"/>
<line x1="56.5" y1="680.5" x2="1202.5" y2="680.5" stroke="#b0b0b0" stroke-width="1"/>
<line x1="56.5" y1="632.5" x2="1202.5" y2="632.5" stroke="#b0b0b0" stroke-width="1"/>
<polyline points="108.5,784.7 111.2,784.9 113.9,784.4 116.6,784.7 119.2,785 121.9,785.1 124.6,784.6 127.3,785.1 130,784.8 132.5,784.9 135,785.2 137.5,784.6 140,785 142.5,785.2 145,784.9 147.5,784.7 150,785 152.5,784.7 155,784.6 157.5,784.5 160,784.4 162.5,784.7 165,784.6 167.5,784.2 170,784.8 172.5,784.7 175,784.8 177.5,784.8 180,784.7 182.5,784.9 185,784.9 187.5,784.6 190,784.9 192.5,784.2 195,784.2 197.5,784.1 200,784.5 202.5,784.3 205,784.4 207.5,784.5 210,784.7 212.5,784.7 215,784.2 217.5,784.5 220,784.6 222.5,784.5 225,784.3 227.5,784.6 230,784.5 232.5,784.7 235,784.6 237.5,785 240,785 242.5,784.3 245,784.8 247.5,784.8 250,784.6 252.5,784.5 255,784.4 257.5,784.7 260,784.6 262.5,784.9 265,785.1 267.5,784.6 270,784.6 272.5,784.8 275,784.9 277.5,785 280,784.9 282.5,784.6 285,784.7 287.5,785.1 290,784.9 292.5,784.9 295,784.5 297.5,784.8 300,784.6 302.5,785 305,784.5 307.5,784.6 310,784.5 312.5,784.8 315,785.2 317.5,784.8 320,784.7 322.5,785.1 325,784.5 327.5,784.7 330,784.8 332.5,785 335,784.4 337.5,785 340,784.7 342.5,784.5 345,784.7 347.5,784.9 350,784.8 352.5,784.9 355,784.6 357.5,784.7 360,785.3 362.5,784.9 365,785 367.5,785.1 370,785 372.5,785.3 375,786 377.5,786 380,786 382.5,786.3 385,786.2 387.5,786.7 390,787.3 392.5,787.3 395,787.7 397.5,788.2 400,788.1 402.8,788.6 405.5,788.8 408.2,788.7 411,789 413.8,789.9 416.5,790 419.2,790.2 422,790.9 424.8,791.2 427.5,791.6 430.2,791.6 433,792 435.8,792.7 438.7,792.8 441.5,793.2 444.3,792.8 447.1,793.6 450,793.6 452.8,794 455.3,794.9 457.8,795.4 460.3,795.3 462.8,796 465.5,796.8 468.3,797.5 471,798.5 473.3,800.1 475.6,801.7 478,803.6 480.3,804.9 482.6,806.9 486.7,808.3 489.8,808.3 492.9,808.8 496,808.7 499.1,809.3 501.8,809.3 504.5,809.8 507.1,809.9 509.8,809.6 512.1,811 514.4,812.4 516.6,814.6 518.9,815.9 521.1,817.9 523.3,819.2 525.5,820.4 527.7,822.1 529.9,824.3 532.1,825.5 534.6,827.4 537,828.2 539.5,829.8 542,831.6 544.1,833.9 546.2,836.4 548.7,837.2 551.1,838.4 553.2,840.4 555.3,841.8 557.3,843.9 559.4,845.4 560.8,848 562.1,851 563.5,853.8 566.3,854.8 569,855.2 571.8,855.6 574.2,856.8 576.7,858.6 578.5,860.4 580.4,862.9 582.2,864.8" fill="none" stroke="#1f77b4" stroke-width="3.3" stroke-linejoin="round" stroke-linecap="round"/>
<polyline points="582.2,864.8 582.9,832.3" fill="none" stroke="#1f77b4" stroke-width="2.5" stroke-dasharray="6 0.8"/>
<polyline points="582.9,832.3 586.5,832.9 588.6,834.8 590.6,836.7 592.7,838.8 594.8,840.8 596.9,842.6 598.9,844.7 601,846 603.1,848 605.1,849.6 607.2,851.6" fill="none" stroke="#1f77b4" stroke-width="3.3" stroke-linejoin="round" stroke-linecap="round"/>
<polyline points="607.2,851.6 608,826.8 608.8,794.4 609.6,764.1 610.1,755" fill="none" stroke="#1f77b4" stroke-width="2.5" stroke-dasharray="6 0.8"/>
<polyline points="610.1,755 612,759 614.3,761.1" fill="none" stroke="#1f77b4" stroke-width="3.3" stroke-linejoin="round" stroke-linecap="round"/>
<polyline points="614.3,761.1 615,742.3 615.4,729.7" fill="none" stroke="#1f77b4" stroke-width="2.5" stroke-dasharray="6 0.8"/>
<polyline points="615.4,729.7 616.2,733.1 617.1,736.4 621,739.4 623.6,741.1 626.2,742.4 627.9,744.7 629.5,747.5 631.1,750.2 632.8,752.6 634.4,754.5 636.1,757.4 637.7,759.4 639.4,761.8 641,764.1 643.5,766.4 646,768.5 648.3,770.6 650.6,772.2" fill="none" stroke="#1f77b4" stroke-width="3.3" stroke-linejoin="round" stroke-linecap="round"/>
<polyline points="650.6,772.2 651.8,733.4 652.6,713.1 653.4,702.1" fill="none" stroke="#1f77b4" stroke-width="2.5" stroke-dasharray="6 0.8"/>
<polyline points="653.4,702.1 653.5,704.9 653.7,708.3 653.9,711.1 654,714.6 654.2,717.5 654.4,720.6 654.6,723.8 656.8,725.3 659,727.7 661.5,729.5 664.1,731.6 665.8,733.8 667.4,736.3 669.1,738.8 670.7,740.6 672.4,743 674.4,745.2 676.4,747.5 678.3,749.9 680.3,752.1 682.3,753.9 683.9,756.4 685.6,757.9 687.2,759.9 688.9,762.3 692.2,764.7 695,765.3 697.7,765 700.5,765.7 702.8,766.8 705.1,768.1 707.4,769.1 709.7,770.1 712,771.3 714,773.4 716,774.7 717.9,776.8 719.9,778.8 721.9,780.3 724.4,781.6 726.9,783.5 729.7,784.7 732.4,786.1 735.2,787.4 737.8,787.9 740.5,788.1 743.1,788.8 745.8,789 748.4,789.8 751.3,790.1 754.2,791 757.1,791.5 760,792.4 762.5,793.3 765,793.2 767.5,793.7 770,794.4 772.7,795.2 775.3,795.7 778,795.8 780.7,796.8 783.3,797.2 786,797.6 788.8,797.8 791.5,798.3 794.2,798.3 797,798.9 799.5,798.7 802.1,799.2 804.6,798.9 807.2,799.2 809.7,798.7 812.2,798.7 814.8,798.6 817.3,799.2 819.8,799.1 822.4,798.6 824.9,798.7 827.5,799.3 830,799.1 832.5,799.1 835,799.4 837.5,798.7 840,799.1 842.5,798.7 845,799.2 847.5,799.1 850,799.1 852.5,798.8 855,799.4 857.5,798.7 860,798.6 862.5,799.1 865,798.6 867.5,798.6 870,798.9 872.5,799.1 875,799.3 877.5,799.1 880,798.9 882.5,798.6 885,799.1 887.5,799.2 890,798.7 892.5,799.2 895,798.8 897.5,798.8 900,798.6 902.5,799.2 905,799 907.5,799.4 910,799 912.5,798.8 915,798.8 917.5,798.9 920,799.5 922.5,798.9 925,798.8 927.5,799 930,799.1 932.6,798.8 935.1,799.1 937.7,799.3 940.2,799.3 942.8,798.9 945.3,798.9 947.9,799.2 950.4,799.4 953,799.2 955.6,799.3 958.1,799.6 960.7,799 963.2,799.1 965.8,799.3 968.3,799.3 970.9,799.6 973.4,799.3 976,799.3 978.7,799.4 981.3,799.1 984,799.4 986.7,799.4 989.3,798.9 992,798.7 994.7,798.8 997.3,798.8 1000,798.9 1002.5,799.1 1005,798.6 1007.5,798.8 1010,798.8 1012.5,799 1015,798.3 1017.5,798.7 1020,798.4 1022.5,798.1 1025,798.5 1027.5,798.6 1030,798.4 1032.5,797.9 1035,798.6 1037.5,798.1 1040,798.1 1042.5,798.2 1045,798.2 1047.5,797.8 1050,797.8 1052.5,797.7 1055,797.5 1057.5,797.4 1060,797.9 1062.5,797.6 1065,797.9 1067.5,797.2 1070,797.3 1072.5,797.2 1075,797.7 1077.5,797.5 1080,797.2 1082.5,797.5 1085,797.1 1087.5,796.8 1090,797 1092.5,796.8 1095,796.5 1097.5,796.9 1100,796.6 1102.5,796.4 1105,796.7 1107.5,797 1110,796.9 1112.5,796.5 1115,796.2 1117.5,796.6 1120,796.4 1122.6,796 1125.2,796.3 1127.7,795.9 1130.3,796.6 1132.9,796.2 1135.5,796 1138,795.8 1140.6,796 1143.2,796.3 1145.8,795.8 1148.3,795.6 1150.9,795.8" fill="none" stroke="#1f77b4" stroke-width="3.3" stroke-linejoin="round" stroke-linecap="round"/>
<line x1="56.5" y1="642" x2="1202.5" y2="642" stroke="#ff0000" stroke-width="2.1" stroke-dasharray="7.7 3.3"/>
<rect x="56.5" y="631.5" width="1146" height="245" fill="none" stroke="#000" stroke-width="1"/>
<line x1="108.5" y1="876.5" x2="108.5" y2="881.7" stroke="#000" stroke-width="1"/>
<text x="108.4" y="897.1" text-anchor="middle" class="tk">0</text>
<line x1="252.5" y1="876.5" x2="252.5" y2="881.7" stroke="#000" stroke-width="1"/>
<text x="252.4" y="897.1" text-anchor="middle" class="tk">200</text>
<line x1="397.5" y1="876.5" x2="397.5" y2="881.7" stroke="#000" stroke-width="1"/>
<text x="397.4" y="897.1" text-anchor="middle" class="tk">400</text>
<line x1="542.5" y1="876.5" x2="542.5" y2="881.7" stroke="#000" stroke-width="1"/>
<text x="542.4" y="897.1" text-anchor="middle" class="tk">600</text>
<line x1="687.5" y1="876.5" x2="687.5" y2="881.7" stroke="#000" stroke-width="1"/>
<text x="687.4" y="897.1" text-anchor="middle" class="tk">800</text>
<line x1="831.5" y1="876.5" x2="831.5" y2="881.7" stroke="#000" stroke-width="1"/>
<text x="831.4" y="897.1" text-anchor="middle" class="tk">1000</text>
<line x1="976.5" y1="876.5" x2="976.5" y2="881.7" stroke="#000" stroke-width="1"/>
<text x="976.4" y="897.1" text-anchor="middle" class="tk">1200</text>
<line x1="1121.5" y1="876.5" x2="1121.5" y2="881.7" stroke="#000" stroke-width="1"/>
<text x="1121.4" y="897.1" text-anchor="middle" class="tk">1400</text>
<line x1="51.3" y1="870.5" x2="56.5" y2="870.5" stroke="#000" stroke-width="1"/>
<text x="44" y="875.5" text-anchor="end" class="tk">4800</text>
<line x1="51.3" y1="823.5" x2="56.5" y2="823.5" stroke="#000" stroke-width="1"/>
<text x="44" y="828.5" text-anchor="end" class="tk">5000</text>
<line x1="51.3" y1="775.5" x2="56.5" y2="775.5" stroke="#000" stroke-width="1"/>
<text x="44" y="780.5" text-anchor="end" class="tk">5200</text>
<line x1="51.3" y1="727.5" x2="56.5" y2="727.5" stroke="#000" stroke-width="1"/>
<text x="44" y="732.5" text-anchor="end" class="tk">5400</text>
<line x1="51.3" y1="680.5" x2="56.5" y2="680.5" stroke="#000" stroke-width="1"/>
<text x="44" y="685.5" text-anchor="end" class="tk">5600</text>
<line x1="51.3" y1="632.5" x2="56.5" y2="632.5" stroke="#000" stroke-width="1"/>
<text x="44" y="637.5" text-anchor="end" class="tk">5800</text>
<text x="628.4" y="916.5" text-anchor="middle">minute</text>
<rect x="63.4" y="844.5" width="108" height="25" rx="2.8" fill="#fff" fill-opacity="0.8" stroke="#ccc" stroke-width="1.1"/>
<line x1="68.5" y1="856" x2="96.3" y2="856" stroke="#1f77b4" stroke-width="2.1" stroke-dasharray="7.7 3.3"/>
<path d="M80.9 856.9h2.4l-1.2 1.4z" fill="#1f77b4"/>
<text x="112.2" y="861.2">Ws_E44</text>
<line x1="108.5" y1="927.5" x2="108.5" y2="1172.5" stroke="#b0b0b0" stroke-width="1"/>
<line x1="253.5" y1="927.5" x2="253.5" y2="1172.5" stroke="#b0b0b0" stroke-width="1"/>
<line x1="399.5" y1="927.5" x2="399.5" y2="1172.5" stroke="#b0b0b0" stroke-width="1"/>
<line x1="544.5" y1="927.5" x2="544.5" y2="1172.5" stroke="#b0b0b0" stroke-width="1"/>
<line x1="690.5" y1="927.5" x2="690.5" y2="1172.5" stroke="#b0b0b0" stroke-width="1"/>
<line x1="835.5" y1="927.5" x2="835.5" y2="1172.5" stroke="#b0b0b0" stroke-width="1"/>
<line x1="980.5" y1="927.5" x2="980.5" y2="1172.5" stroke="#b0b0b0" stroke-width="1"/>
<line x1="1126.5" y1="927.5" x2="1126.5" y2="1172.5" stroke="#b0b0b0" stroke-width="1"/>
<line x1="56.5" y1="1152.5" x2="1202.5" y2="1152.5" stroke="#b0b0b0" stroke-width="1"/>
<line x1="56.5" y1="1112.5" x2="1202.5" y2="1112.5" stroke="#b0b0b0" stroke-width="1"/>
<line x1="56.5" y1="1073.5" x2="1202.5" y2="1073.5" stroke="#b0b0b0" stroke-width="1"/>
<line x1="56.5" y1="1033.5" x2="1202.5" y2="1033.5" stroke="#b0b0b0" stroke-width="1"/>
<line x1="56.5" y1="994.5" x2="1202.5" y2="994.5" stroke="#b0b0b0" stroke-width="1"/>
<line x1="56.5" y1="954.5" x2="1202.5" y2="954.5" stroke="#b0b0b0" stroke-width="1"/>
<polyline points="109.3,1112.6 112.4,1112.3 115.6,1112.6 118.7,1112.4 121.8,1112.6 125,1112.6 128.1,1112.1 131.2,1112 134.3,1112.8 137.5,1112.2 140.6,1112.2 143.7,1112.9 146.9,1112.4 150,1112.4 153.1,1112.8 156.2,1112.4 159.4,1112.6 162.5,1112.1 165.6,1112.6 168.8,1112.9 171.9,1112.6 175,1112.8 178.1,1112.7 181.2,1112.2 184.4,1112.9 187.5,1112.7 190.6,1112.4 193.8,1112.2 196.9,1113 200,1112.7 203.1,1112.6 206.2,1112.9 209.4,1113 212.5,1112.8 215.6,1113 218.8,1112.4 221.9,1112.8 225,1112.4 228.1,1112.9 231.2,1112.8 234.4,1112 237.5,1112 240.6,1112.1 243.8,1112.8 246.9,1112.3 250,1112.3 253.1,1112.4 256.2,1112.1 259.4,1112.4 262.5,1112.3 265.6,1112.2 268.8,1112.5 271.9,1112.5 275,1112.9 278.1,1112.7 281.2,1112.9 284.4,1112.9 287.5,1113 290.6,1112.7 293.8,1112.2 296.9,1112.9 300,1112.6 303.1,1113.1 306.2,1113 309.4,1112.7 312.5,1112.9 315.6,1112.4 318.8,1113 321.9,1112.8 325,1112.5 328.1,1112.3 331.2,1113.1 334.4,1113.3 337.5,1112.4 340.6,1113.1 343.8,1112.8 346.9,1112.5 350,1112.9 353.1,1112.7 356.2,1113.2 359.4,1113.3 362.5,1112.5 365.6,1113.1 368.8,1112.5 371.9,1113.2 375,1112.8 378.1,1113.4 381.2,1113.5 384.4,1113 387.5,1113.5 390.6,1112.9 393.8,1112.7 396.9,1113.2 400,1113.1 403.1,1112.6 406.3,1112.7 409.4,1112.9 412.5,1113.1 415.7,1112.6 418.8,1112.5 421.9,1113.3 425.1,1112.7 428.2,1113.3 431.3,1113.2 434.5,1112.7 437.6,1112.7 440.7,1112.8 443.9,1112.9 447,1112.7 450.3,1113.3 453.6,1113.8 456.9,1114.3 460.3,1115.1 463.6,1115.2 466.9,1115.7 470.2,1116.9 473.5,1118.4 476.8,1119.4 479.9,1117.3 483,1115.5 486.1,1114.3 489.2,1112 494,1113.2 497.8,1112.8 501.5,1112.4 505.3,1112 509,1115.2 512.7,1119.4 515.8,1118.5 518.9,1117.7 523.9,1120 527.6,1119.9 531.3,1119.1 535,1119.4 538.7,1120.5 542.4,1121.4 545.5,1119.7 548.6,1117.7 551.7,1118.8 554.8,1120.7 559.3,1128.6 562.6,1122.3 566,1115.7 569.1,1116.3 572.2,1117 576,1119.5 579.4,1122.4" fill="none" stroke="#1f77b4" stroke-width="4.3" stroke-linejoin="round" stroke-linecap="round"/>
<polyline points="580,1122.4 580.2,1061" fill="none" stroke="#1f77b4" stroke-width="2.9" stroke-dasharray="7.7 3.3"/>
<polyline points="580.2,1061 581.5,1057.5 583.9,1055.6 585,1059" fill="none" stroke="#1f77b4" stroke-width="3.2" stroke-linejoin="round" stroke-linecap="round"/>
<polyline points="585.3,1059 585.6,1113" fill="none" stroke="#1f77b4" stroke-width="2.9" stroke-dasharray="7.7 3.3"/>
<polyline points="585.6,1113 586.6,1118.2 589.9,1121 593.4,1120.9 596.9,1120.5 600.5,1120.9 604.4,1122.2" fill="none" stroke="#1f77b4" stroke-width="4.3" stroke-linejoin="round" stroke-linecap="round"/>
<polyline points="605.3,1122 606.3,1030 607.1,940" fill="none" stroke="#1f77b4" stroke-width="2.9" stroke-dasharray="7.7 3.3"/>
<polyline points="607.1,940 607.5,937.6 610.6,942.6" fill="none" stroke="#1f77b4" stroke-width="3.2" stroke-linejoin="round" stroke-linecap="round"/>
<polyline points="609.9,943 611,1000 612.3,1062.3" fill="none" stroke="#1f77b4" stroke-width="2.9" stroke-dasharray="7.7 3.3"/>
<polyline points="612.3,1062.3 612.6,1079.3 612.9,1068 617.6,1069.2" fill="none" stroke="#1f77b4" stroke-width="3.2" stroke-linejoin="round" stroke-linecap="round"/>
<polyline points="617.9,1069.2 618.3,1126" fill="none" stroke="#1f77b4" stroke-width="2.9" stroke-dasharray="7.7 3.3"/>
<polyline points="618.3,1126 618.6,1129 620.5,1122 622.7,1119 625.5,1123 629.2,1128 633,1126.8 638.7,1125 644.6,1119.3 648.8,1118.8" fill="none" stroke="#1f77b4" stroke-width="4.3" stroke-linejoin="round" stroke-linecap="round"/>
<polyline points="649.3,1118.6 649.9,1050 650.4,988" fill="none" stroke="#1f77b4" stroke-width="2.9" stroke-dasharray="7.7 3.3"/>
<polyline points="650.4,986.9 650.4,1000 651.1,1015.6 654.4,1030.5" fill="none" stroke="#1f77b4" stroke-width="3.2" stroke-linejoin="round" stroke-linecap="round"/>
<polyline points="654.5,1030.5 655.2,1114" fill="none" stroke="#1f77b4" stroke-width="2.9" stroke-dasharray="7.7 3.3"/>
<polyline points="655.2,1114 656.4,1158.5 657.4,1119.5" fill="none" stroke="#1f77b4" stroke-width="3.2" stroke-linejoin="round" stroke-linecap="round"/>
<polyline points="657.4,1119.5 660.5,1118.8 664,1122 667.5,1125.5 673,1124 676.5,1123.6 679.9,1122.7 683,1124.1 686.1,1125.1 691,1119 695.9,1112.2 700.9,1117.2 706,1116 709,1117.3 712,1119.6 716.4,1120.2 720.7,1121.6 723.8,1119.8 726.9,1117.7 730,1117.1 733.1,1115.3 736.2,1114.4 739.3,1113.4 743,1112.9 746.7,1112.2 749.8,1113.9 752.9,1115.9 756.5,1115.1 760,1114.5 763,1113.9 766,1113.6 769,1113.4 772.7,1114.4 776.4,1115.2 779.5,1114.6 782.6,1114.2 785.7,1114.1 788.8,1113.4 792.1,1112.8 795.4,1113.1 798.7,1113.1 802,1112.5 805.3,1112.3 808.6,1112.4 811.8,1112.7 815,1112.2 818.2,1112.2 821.3,1112.5 824.5,1112.8 827.7,1112.2 830.9,1112.4 834.1,1112.5 837.3,1113 840.4,1112.6 843.6,1113.1 846.8,1112.4 850,1112.8 853.1,1112.6 856.2,1112.9 859.4,1113.1 862.5,1112.7 865.6,1112.4 868.8,1112.3 871.9,1112.7 875,1112.3 878.1,1112.9 881.2,1113 884.4,1112.3 887.5,1112.4 890.6,1112.9 893.8,1112.7 896.9,1112.8 900,1112.5 903.1,1112.4 906.2,1112.2 909.4,1112.4 912.5,1112.9 915.6,1112.4 918.8,1112.5 921.9,1112.6 925,1112.6 928.1,1112.6 931.2,1113.2 934.4,1112.4 937.5,1112.3 940.6,1113.3 943.8,1113.2 946.9,1113.4 950,1112.9 953.1,1112.8 956.2,1113.3 959.4,1113.3 962.5,1112.5 965.6,1113 968.8,1113.1 971.9,1112.9 975,1112.7 978.1,1112.5 981.2,1112.5 984.4,1112.4 987.5,1112.2 990.6,1112.7 993.8,1112.3 996.9,1112.8 1000,1112.5 1003.1,1112.1 1006.2,1112.9 1009.4,1112.7 1012.5,1113 1015.6,1113 1018.8,1113 1021.9,1112.7 1025,1112.2 1028.1,1112.9 1031.2,1112.4 1034.4,1112.5 1037.5,1112.9 1040.6,1112.8 1043.8,1112.7 1046.9,1113.2 1050,1112.8 1053.1,1112.9 1056.2,1112.6 1059.4,1112.5 1062.5,1113.1 1065.6,1112.7 1068.8,1113 1071.9,1112.5 1075,1112.3 1078.1,1112.7 1081.2,1112.9 1084.4,1112.3 1087.5,1112.9 1090.6,1113 1093.8,1112.8 1096.9,1112.8 1100,1112.5 1103.1,1112 1106.3,1112.7 1109.4,1112.9 1112.6,1112.1 1115.7,1112.3 1118.9,1112.3 1122,1112.6 1125.2,1112.5 1128.3,1112.6 1131.4,1112.9 1134.6,1112.1 1137.7,1112.2 1140.9,1112.3 1144,1112.3 1147.2,1112.3 1150.3,1112.7" fill="none" stroke="#1f77b4" stroke-width="4.3" stroke-linejoin="round" stroke-linecap="round"/>
<rect x="56.5" y="927.5" width="1146" height="245" fill="none" stroke="#000" stroke-width="1"/>
<line x1="108.5" y1="1172.5" x2="108.5" y2="1177.7" stroke="#000" stroke-width="1"/>
<text x="108.4" y="1194.1" text-anchor="middle" class="tk">0</text>
<line x1="253.5" y1="1172.5" x2="253.5" y2="1177.7" stroke="#000" stroke-width="1"/>
<text x="253.4" y="1194.1" text-anchor="middle" class="tk">200</text>
<line x1="399.5" y1="1172.5" x2="399.5" y2="1177.7" stroke="#000" stroke-width="1"/>
<text x="399.4" y="1194.1" text-anchor="middle" class="tk">400</text>
<line x1="544.5" y1="1172.5" x2="544.5" y2="1177.7" stroke="#000" stroke-width="1"/>
<text x="544.4" y="1194.1" text-anchor="middle" class="tk">600</text>
<line x1="690.5" y1="1172.5" x2="690.5" y2="1177.7" stroke="#000" stroke-width="1"/>
<text x="690.4" y="1194.1" text-anchor="middle" class="tk">800</text>
<line x1="835.5" y1="1172.5" x2="835.5" y2="1177.7" stroke="#000" stroke-width="1"/>
<text x="835.4" y="1194.1" text-anchor="middle" class="tk">1000</text>
<line x1="980.5" y1="1172.5" x2="980.5" y2="1177.7" stroke="#000" stroke-width="1"/>
<text x="980.4" y="1194.1" text-anchor="middle" class="tk">1200</text>
<line x1="1126.5" y1="1172.5" x2="1126.5" y2="1177.7" stroke="#000" stroke-width="1"/>
<text x="1126.4" y="1194.1" text-anchor="middle" class="tk">1400</text>
<line x1="51.3" y1="1152.5" x2="56.5" y2="1152.5" stroke="#000" stroke-width="1"/>
<text x="45.1" y="1157.5" text-anchor="end" class="tk">-1</text>
<line x1="51.3" y1="1112.5" x2="56.5" y2="1112.5" stroke="#000" stroke-width="1"/>
<text x="46.5" y="1117.5" text-anchor="end" class="tk">0</text>
<line x1="51.3" y1="1073.5" x2="56.5" y2="1073.5" stroke="#000" stroke-width="1"/>
<text x="46.5" y="1078.5" text-anchor="end" class="tk">1</text>
<line x1="51.3" y1="1033.5" x2="56.5" y2="1033.5" stroke="#000" stroke-width="1"/>
<text x="46.5" y="1038.5" text-anchor="end" class="tk">2</text>
<line x1="51.3" y1="994.5" x2="56.5" y2="994.5" stroke="#000" stroke-width="1"/>
<text x="46.5" y="999.5" text-anchor="end" class="tk">3</text>
<line x1="51.3" y1="954.5" x2="56.5" y2="954.5" stroke="#000" stroke-width="1"/>
<text x="46.5" y="959.5" text-anchor="end" class="tk">4</text>
<text x="628.4" y="1212.5" text-anchor="middle">minute</text>
<rect x="996.5" y="934.6" width="198.8" height="25" rx="2.8" fill="#fff" fill-opacity="0.8" stroke="#ccc" stroke-width="1.1"/>
<line x1="1001.6" y1="946" x2="1029.4" y2="946" stroke="#1f77b4" stroke-width="2.1" stroke-dasharray="7.7 3.3"/>
<path d="M1014 946.9h2.4l-1.2 1.4z" fill="#1f77b4"/>
<text x="1045.3" y="951.3">Ws_E44_ws_rate_ma</text>
<line x1="107.5" y1="1224.5" x2="107.5" y2="1469.5" stroke="#b0b0b0" stroke-width="1"/>
<line x1="253.5" y1="1224.5" x2="253.5" y2="1469.5" stroke="#b0b0b0" stroke-width="1"/>
<line x1="398.5" y1="1224.5" x2="398.5" y2="1469.5" stroke="#b0b0b0" stroke-width="1"/>
<line x1="544.5" y1="1224.5" x2="544.5" y2="1469.5" stroke="#b0b0b0" stroke-width="1"/>
<line x1="689.5" y1="1224.5" x2="689.5" y2="1469.5" stroke="#b0b0b0" stroke-width="1"/>
<line x1="835.5" y1="1224.5" x2="835.5" y2="1469.5" stroke="#b0b0b0" stroke-width="1"/>
<line x1="980.5" y1="1224.5" x2="980.5" y2="1469.5" stroke="#b0b0b0" stroke-width="1"/>
<line x1="1126.5" y1="1224.5" x2="1126.5" y2="1469.5" stroke="#b0b0b0" stroke-width="1"/>
<line x1="56.5" y1="1448.5" x2="1202.5" y2="1448.5" stroke="#b0b0b0" stroke-width="1"/>
<line x1="56.5" y1="1409.5" x2="1202.5" y2="1409.5" stroke="#b0b0b0" stroke-width="1"/>
<line x1="56.5" y1="1369.5" x2="1202.5" y2="1369.5" stroke="#b0b0b0" stroke-width="1"/>
<line x1="56.5" y1="1330.5" x2="1202.5" y2="1330.5" stroke="#b0b0b0" stroke-width="1"/>
<line x1="56.5" y1="1290.5" x2="1202.5" y2="1290.5" stroke="#b0b0b0" stroke-width="1"/>
<line x1="56.5" y1="1251.5" x2="1202.5" y2="1251.5" stroke="#b0b0b0" stroke-width="1"/>
<polyline points="109.1,1409.2 112.2,1408.9 115.4,1409.2 118.5,1409 121.6,1409.2 124.8,1409.2 127.9,1408.7 131,1408.6 134.1,1409.4 137.3,1408.8 140.4,1408.8 143.5,1409.5 146.7,1409 149.8,1409 152.9,1409.4 156.1,1409 159.2,1409.2 162.3,1408.7 165.4,1409.2 168.6,1409.5 171.7,1409.2 174.8,1409.4 177.9,1409.3 181.1,1408.8 184.2,1409.5 187.3,1409.3 190.4,1409 193.6,1408.8 196.7,1409.6 199.8,1409.3 202.9,1409.2 206.1,1409.5 209.2,1409.6 212.3,1409.4 215.4,1409.6 218.6,1409 221.7,1409.4 224.8,1409 227.9,1409.5 231.1,1409.4 234.2,1408.6 237.3,1408.6 240.4,1408.7 243.6,1409.4 246.7,1408.9 249.8,1408.9 252.9,1409 256.1,1408.7 259.2,1409 262.3,1408.9 265.4,1408.8 268.6,1409.1 271.7,1409.1 274.8,1409.5 277.9,1409.3 281.1,1409.5 284.2,1409.5 287.3,1409.6 290.4,1409.3 293.6,1408.8 296.7,1409.5 299.8,1409.2 302.9,1409.7 306.1,1409.6 309.2,1409.3 312.3,1409.5 315.4,1409 318.6,1409.6 321.7,1409.4 324.8,1409.1 327.9,1408.9 331.1,1409.7 334.2,1409.9 337.3,1409 340.4,1409.7 343.6,1409.4 346.7,1409.1 349.8,1409.5 352.9,1409.3 356.1,1409.8 359.2,1409.9 362.3,1409.1 365.4,1409.7 368.6,1409.1 371.7,1409.8 374.8,1409.4 377.9,1410 381.1,1410.1 384.2,1409.6 387.3,1410.1 390.4,1409.5 393.6,1409.3 396.7,1409.8 399.8,1409.7 402.9,1409.2 406.1,1409.3 409.2,1409.5 412.3,1409.7 415.5,1409.2 418.6,1409.1 421.7,1409.9 424.9,1409.3 428,1409.9 431.1,1409.8 434.3,1409.3 437.4,1409.3 440.5,1409.4 443.7,1409.5 446.8,1409.3 450.1,1409.9 453.4,1410.4 456.8,1410.9 460.1,1411.7 463.4,1411.8 466.7,1412.3 470,1413.5 473.3,1415 476.6,1416 479.7,1413.9 482.8,1412.1 485.9,1410.9 489,1408.6 493.8,1409.8 497.6,1409.4 501.3,1409 505.1,1408.6 508.8,1411.8 512.5,1416 515.6,1415.1 518.7,1414.3 523.7,1416.6 527.4,1416.5 531.1,1415.7 534.8,1416 538.5,1417.1 542.2,1418 545.3,1416.3 548.4,1414.3 551.5,1415.4 554.6,1417.3 559.1,1425.2 562.4,1418.9 565.8,1412.3 568.9,1412.9 572,1413.6 575.8,1416.1 579.2,1419" fill="none" stroke="#1f77b4" stroke-width="4.0" stroke-linejoin="round" stroke-linecap="round"/>
<polyline points="579.8,1419 580,1357.6" fill="none" stroke="#1f77b4" stroke-width="2.9" stroke-dasharray="7.7 3.3"/>
<polyline points="580,1357.6 581.3,1354.1 583.7,1352.2 584.8,1355.6" fill="none" stroke="#1f77b4" stroke-width="3.2" stroke-linejoin="round" stroke-linecap="round"/>
<polyline points="585.1,1355.6 585.4,1409.6" fill="none" stroke="#1f77b4" stroke-width="2.9" stroke-dasharray="7.7 3.3"/>
<polyline points="585.4,1409.6 586.4,1414.8 589.7,1417.6 593.2,1417.5 596.7,1417.1 600.3,1417.5 604.2,1418.8" fill="none" stroke="#1f77b4" stroke-width="4.0" stroke-linejoin="round" stroke-linecap="round"/>
<polyline points="605.1,1418.6 606.1,1326.6 606.9,1236.6" fill="none" stroke="#1f77b4" stroke-width="2.9" stroke-dasharray="7.7 3.3"/>
<polyline points="606.9,1236.6 607.3,1234.2 610.4,1239.2" fill="none" stroke="#1f77b4" stroke-width="3.2" stroke-linejoin="round" stroke-linecap="round"/>
<polyline points="609.7,1239.6 610.8,1296.6 612.1,1358.9" fill="none" stroke="#1f77b4" stroke-width="2.9" stroke-dasharray="7.7 3.3"/>
<polyline points="612.1,1358.9 612.4,1375.9 612.7,1364.6 617.4,1365.8" fill="none" stroke="#1f77b4" stroke-width="3.2" stroke-linejoin="round" stroke-linecap="round"/>
<polyline points="617.7,1365.8 618.1,1422.6" fill="none" stroke="#1f77b4" stroke-width="2.9" stroke-dasharray="7.7 3.3"/>
<polyline points="618.1,1422.6 618.4,1425.6 620.3,1418.6 622.5,1415.6 625.3,1419.6 629,1424.6 632.8,1423.4 638.5,1421.6 644.4,1415.9 648.6,1415.4" fill="none" stroke="#1f77b4" stroke-width="4.0" stroke-linejoin="round" stroke-linecap="round"/>
<polyline points="649.1,1415.2 649.7,1346.6 650.2,1284.6" fill="none" stroke="#1f77b4" stroke-width="2.9" stroke-dasharray="7.7 3.3"/>
<polyline points="650.2,1283.5 650.2,1296.6 650.9,1312.2 654.2,1327.1" fill="none" stroke="#1f77b4" stroke-width="3.2" stroke-linejoin="round" stroke-linecap="round"/>
<polyline points="654.3,1327.1 655,1410.6" fill="none" stroke="#1f77b4" stroke-width="2.9" stroke-dasharray="7.7 3.3"/>
<polyline points="655,1410.6 656.2,1455.1 657.2,1416.1" fill="none" stroke="#1f77b4" stroke-width="3.2" stroke-linejoin="round" stroke-linecap="round"/>
<polyline points="657.2,1416.1 660.3,1415.4 663.8,1418.6 667.3,1422.1 672.8,1420.6 676.2,1420.2 679.7,1419.3 682.8,1420.7 685.9,1421.7 690.8,1415.6 695.7,1408.8 700.7,1413.8 705.8,1412.6 708.8,1413.9 711.8,1416.2 716.1,1416.8 720.5,1418.2 723.6,1416.4 726.7,1414.3 729.8,1413.7 732.9,1411.9 736,1411 739.1,1410 742.8,1409.5 746.5,1408.8 749.6,1410.5 752.7,1412.5 756.2,1411.7 759.8,1411.1 762.8,1410.5 765.8,1410.2 768.8,1410 772.5,1411 776.2,1411.8 779.3,1411.2 782.4,1410.8 785.5,1410.7 788.6,1410 791.9,1409.4 795.2,1409.7 798.5,1409.7 801.8,1409.1 805.1,1408.9 808.4,1409 811.6,1409.3 814.8,1408.8 818,1408.8 821.1,1409.1 824.3,1409.4 827.5,1408.8 830.7,1409 833.9,1409.1 837.1,1409.6 840.2,1409.2 843.4,1409.7 846.6,1409 849.8,1409.4 852.9,1409.2 856,1409.5 859.2,1409.7 862.3,1409.3 865.4,1409 868.5,1408.9 871.7,1409.3 874.8,1408.9 877.9,1409.5 881,1409.6 884.2,1408.9 887.3,1409 890.4,1409.5 893.5,1409.3 896.7,1409.4 899.8,1409.1 902.9,1409 906,1408.8 909.2,1409 912.3,1409.5 915.4,1409 918.5,1409.1 921.7,1409.2 924.8,1409.2 927.9,1409.2 931,1409.8 934.2,1409 937.3,1408.9 940.4,1409.9 943.5,1409.8 946.7,1410 949.8,1409.5 952.9,1409.4 956,1409.9 959.2,1409.9 962.3,1409.1 965.4,1409.6 968.5,1409.7 971.7,1409.5 974.8,1409.3 977.9,1409.1 981,1409.1 984.2,1409 987.3,1408.8 990.4,1409.3 993.5,1408.9 996.7,1409.4 999.8,1409.1 1002.9,1408.7 1006,1409.5 1009.2,1409.3 1012.3,1409.6 1015.4,1409.6 1018.5,1409.6 1021.7,1409.3 1024.8,1408.8 1027.9,1409.5 1031,1409 1034.2,1409.1 1037.3,1409.5 1040.4,1409.4 1043.5,1409.3 1046.7,1409.8 1049.8,1409.4 1052.9,1409.5 1056,1409.2 1059.2,1409.1 1062.3,1409.7 1065.4,1409.3 1068.5,1409.6 1071.7,1409.1 1074.8,1408.9 1077.9,1409.3 1081,1409.5 1084.2,1408.9 1087.3,1409.5 1090.4,1409.6 1093.5,1409.4 1096.7,1409.4 1099.8,1409.1 1102.9,1408.6 1106.1,1409.3 1109.2,1409.5 1112.4,1408.7 1115.5,1408.9 1118.7,1408.9 1121.8,1409.2 1125,1409.1 1128.1,1409.2 1131.2,1409.5 1134.4,1408.7 1137.5,1408.8 1140.7,1408.9 1143.8,1408.9 1147,1408.9 1150.1,1409.3" fill="none" stroke="#1f77b4" stroke-width="4.0" stroke-linejoin="round" stroke-linecap="round"/>
<rect x="56.5" y="1224.5" width="1146" height="245" fill="none" stroke="#000" stroke-width="1"/>
<line x1="107.5" y1="1469.5" x2="107.5" y2="1474.7" stroke="#000" stroke-width="1"/>
<text x="107.4" y="1490.1" text-anchor="middle" class="tk">0</text>
<line x1="253.5" y1="1469.5" x2="253.5" y2="1474.7" stroke="#000" stroke-width="1"/>
<text x="253.4" y="1490.1" text-anchor="middle" class="tk">200</text>
<line x1="398.5" y1="1469.5" x2="398.5" y2="1474.7" stroke="#000" stroke-width="1"/>
<text x="398.4" y="1490.1" text-anchor="middle" class="tk">400</text>
<line x1="544.5" y1="1469.5" x2="544.5" y2="1474.7" stroke="#000" stroke-width="1"/>
<text x="544.4" y="1490.1" text-anchor="middle" class="tk">600</text>
<line x1="689.5" y1="1469.5" x2="689.5" y2="1474.7" stroke="#000" stroke-width="1"/>
<text x="689.4" y="1490.1" text-anchor="middle" class="tk">800</text>
<line x1="835.5" y1="1469.5" x2="835.5" y2="1474.7" stroke="#000" stroke-width="1"/>
<text x="835.4" y="1490.1" text-anchor="middle" class="tk">1000</text>
<line x1="980.5" y1="1469.5" x2="980.5" y2="1474.7" stroke="#000" stroke-width="1"/>
<text x="980.4" y="1490.1" text-anchor="middle" class="tk">1200</text>
<line x1="1126.5" y1="1469.5" x2="1126.5" y2="1474.7" stroke="#000" stroke-width="1"/>
<text x="1126.4" y="1490.1" text-anchor="middle" class="tk">1400</text>
<line x1="51.3" y1="1448.5" x2="56.5" y2="1448.5" stroke="#000" stroke-width="1"/>
<text x="45.1" y="1453.5" text-anchor="end" class="tk">-1</text>
<line x1="51.3" y1="1409.5" x2="56.5" y2="1409.5" stroke="#000" stroke-width="1"/>
<text x="46.5" y="1414.5" text-anchor="end" class="tk">0</text>
<line x1="51.3" y1="1369.5" x2="56.5" y2="1369.5" stroke="#000" stroke-width="1"/>
<text x="46.5" y="1374.5" text-anchor="end" class="tk">1</text>
<line x1="51.3" y1="1330.5" x2="56.5" y2="1330.5" stroke="#000" stroke-width="1"/>
<text x="46.5" y="1335.5" text-anchor="end" class="tk">2</text>
<line x1="51.3" y1="1290.5" x2="56.5" y2="1290.5" stroke="#000" stroke-width="1"/>
<text x="46.5" y="1295.5" text-anchor="end" class="tk">3</text>
<line x1="51.3" y1="1251.5" x2="56.5" y2="1251.5" stroke="#000" stroke-width="1"/>
<text x="46.5" y="1256.5" text-anchor="end" class="tk">4</text>
<text x="628.4" y="1508.7" text-anchor="middle">minute</text>
<rect x="1000.5" y="1231.6" width="194.8" height="25" rx="2.8" fill="#fff" fill-opacity="0.8" stroke="#ccc" stroke-width="1.1"/>
<line x1="1005.6" y1="1243" x2="1033.4" y2="1243" stroke="#1f77b4" stroke-width="2.1" stroke-dasharray="7.7 3.3"/>
<path d="M1018 1243.9h2.4l-1.2 1.4z" fill="#1f77b4"/>
<text x="1049.3" y="1248.3">Ws_E44_et_rate_ma</text>
<line x1="107.5" y1="1520.5" x2="107.5" y2="1765.5" stroke="#b0b0b0" stroke-width="1"/>
<line x1="253.5" y1="1520.5" x2="253.5" y2="1765.5" stroke="#b0b0b0" stroke-width="1"/>
<line x1="398.5" y1="1520.5" x2="398.5" y2="1765.5" stroke="#b0b0b0" stroke-width="1"/>
<line x1="544.5" y1="1520.5" x2="544.5" y2="1765.5" stroke="#b0b0b0" stroke-width="1"/>
<line x1="689.5" y1="1520.5" x2="689.5" y2="1765.5" stroke="#b0b0b0" stroke-width="1"/>
<line x1="835.5" y1="1520.5" x2="835.5" y2="1765.5" stroke="#b0b0b0" stroke-width="1"/>
<line x1="980.5" y1="1520.5" x2="980.5" y2="1765.5" stroke="#b0b0b0" stroke-width="1"/>
<line x1="1126.5" y1="1520.5" x2="1126.5" y2="1765.5" stroke="#b0b0b0" stroke-width="1"/>
<line x1="56.5" y1="1732.5" x2="1202.5" y2="1732.5" stroke="#b0b0b0" stroke-width="1"/>
<line x1="56.5" y1="1687.5" x2="1202.5" y2="1687.5" stroke="#b0b0b0" stroke-width="1"/>
<line x1="56.5" y1="1643.5" x2="1202.5" y2="1643.5" stroke="#b0b0b0" stroke-width="1"/>
<line x1="56.5" y1="1598.5" x2="1202.5" y2="1598.5" stroke="#b0b0b0" stroke-width="1"/>
<line x1="56.5" y1="1554.5" x2="1202.5" y2="1554.5" stroke="#b0b0b0" stroke-width="1"/>
<polyline points="107.6,1643.1 1150.4,1643.1" fill="none" stroke="#1f77b4" stroke-width="3.5" stroke-linejoin="round" stroke-linecap="round"/>
<rect x="56.5" y="1520.5" width="1146" height="245" fill="none" stroke="#000" stroke-width="1"/>
<line x1="107.5" y1="1765.5" x2="107.5" y2="1770.7" stroke="#000" stroke-width="1"/>
<text x="107.4" y="1786.1" text-anchor="middle" class="tk">0</text>
<line x1="253.5" y1="1765.5" x2="253.5" y2="1770.7" stroke="#000" stroke-width="1"/>
<text x="253.4" y="1786.1" text-anchor="middle" class="tk">200</text>
<line x1="398.5" y1="1765.5" x2="398.5" y2="1770.7" stroke="#000" stroke-width="1"/>
<text x="398.4" y="1786.1" text-anchor="middle" class="tk">400</text>
<line x1="544.5" y1="1765.5" x2="544.5" y2="1770.7" stroke="#000" stroke-width="1"/>
<text x="544.4" y="1786.1" text-anchor="middle" class="tk">600</text>
<line x1="689.5" y1="1765.5" x2="689.5" y2="1770.7" stroke="#000" stroke-width="1"/>
<text x="689.4" y="1786.1" text-anchor="middle" class="tk">800</text>
<line x1="835.5" y1="1765.5" x2="835.5" y2="1770.7" stroke="#000" stroke-width="1"/>
<text x="835.4" y="1786.1" text-anchor="middle" class="tk">1000</text>
<line x1="980.5" y1="1765.5" x2="980.5" y2="1770.7" stroke="#000" stroke-width="1"/>
<text x="980.4" y="1786.1" text-anchor="middle" class="tk">1200</text>
<line x1="1126.5" y1="1765.5" x2="1126.5" y2="1770.7" stroke="#000" stroke-width="1"/>
<text x="1126.4" y="1786.1" text-anchor="middle" class="tk">1400</text>
<line x1="51.3" y1="1732.5" x2="56.5" y2="1732.5" stroke="#000" stroke-width="1"/>
<text x="45.6" y="1737.5" text-anchor="end" class="tk">-0.04</text>
<line x1="51.3" y1="1687.5" x2="56.5" y2="1687.5" stroke="#000" stroke-width="1"/>
<text x="45.6" y="1692.5" text-anchor="end" class="tk">-0.02</text>
<line x1="51.3" y1="1643.5" x2="56.5" y2="1643.5" stroke="#000" stroke-width="1"/>
<text x="45.6" y="1648.5" text-anchor="end" class="tk">0.00</text>
<line x1="51.3" y1="1598.5" x2="56.5" y2="1598.5" stroke="#000" stroke-width="1"/>
<text x="45.6" y="1603.5" text-anchor="end" class="tk">0.02</text>
<line x1="51.3" y1="1554.5" x2="56.5" y2="1554.5" stroke="#000" stroke-width="1"/>
<text x="45.6" y="1559.5" text-anchor="end" class="tk">0.04</text>
<text x="628.4" y="1805.5" text-anchor="middle">minute</text>
<rect x="979.5" y="1527.6" width="215.8" height="25" rx="2.8" fill="#fff" fill-opacity="0.8" stroke="#ccc" stroke-width="1.1"/>
<line x1="984.6" y1="1539" x2="1012.4" y2="1539" stroke="#1f77b4" stroke-width="2.1" stroke-dasharray="7.7 3.3"/>
<path d="M997 1539.9h2.4l-1.2 1.4z" fill="#1f77b4"/>
<text x="1028.3" y="1544.3">Ws_E44_drain_rate_ma</text>
<line x1="107.5" y1="1817.5" x2="107.5" y2="2061.5" stroke="#b0b0b0" stroke-width="1"/>
<line x1="252.5" y1="1817.5" x2="252.5" y2="2061.5" stroke="#b0b0b0" stroke-width="1"/>
<line x1="397.5" y1="1817.5" x2="397.5" y2="2061.5" stroke="#b0b0b0" stroke-width="1"/>
<line x1="542.5" y1="1817.5" x2="542.5" y2="2061.5" stroke="#b0b0b0" stroke-width="1"/>
<line x1="687.5" y1="1817.5" x2="687.5" y2="2061.5" stroke="#b0b0b0" stroke-width="1"/>
<line x1="832.5" y1="1817.5" x2="832.5" y2="2061.5" stroke="#b0b0b0" stroke-width="1"/>
<line x1="976.5" y1="1817.5" x2="976.5" y2="2061.5" stroke="#b0b0b0" stroke-width="1"/>
<line x1="1121.5" y1="1817.5" x2="1121.5" y2="2061.5" stroke="#b0b0b0" stroke-width="1"/>
<line x1="56.5" y1="2026.5" x2="1202.5" y2="2026.5" stroke="#b0b0b0" stroke-width="1"/>
<line x1="56.5" y1="1970.5" x2="1202.5" y2="1970.5" stroke="#b0b0b0" stroke-width="1"/>
<line x1="56.5" y1="1913.5" x2="1202.5" y2="1913.5" stroke="#b0b0b0" stroke-width="1"/>
<line x1="56.5" y1="1857.5" x2="1202.5" y2="1857.5" stroke="#b0b0b0" stroke-width="1"/>
<polygon points="107.8,1967.4 109,1967.4 110.2,1967 111.4,1966.9 112.6,1966.9 113.8,1967.3 115,1966.6 116.2,1967.2 117.4,1966.6 118.6,1967 119.8,1967.3 121,1967.2 122.2,1967.3 123.4,1967.1 124.6,1967.2 125.8,1967.1 127,1967.3 128.2,1967.1 129.4,1967.2 130.6,1967.2 131.8,1967 133,1967.2 134.2,1967.4 135.4,1966.4 136.6,1967.4 137.8,1967.2 139,1966.7 140.2,1967.1 141.4,1966.7 142.6,1967.4 143.8,1967.1 145,1967.2 146.2,1966.9 147.4,1966.7 148.6,1966.6 149.8,1966.7 151,1966.4 152.2,1967.3 153.4,1966.8 154.6,1966.8 155.8,1967.3 157,1966.6 158.2,1967.2 159.4,1966.6 160.6,1966.9 161.8,1966.4 163,1967 164.2,1967.4 165.4,1966.7 166.6,1967.2 167.8,1967.3 169,1967.4 170.2,1967.1 171.4,1966.9 172.6,1967 173.8,1966.7 175,1966.7 176.2,1967.4 177.4,1966.7 178.6,1966.8 179.8,1967.1 181,1966.9 182.2,1967.3 183.4,1967.4 184.6,1967.4 185.8,1967.2 187,1967.1 188.2,1966.4 189.4,1967.3 190.6,1967.5 191.8,1967.3 193,1966.5 194.2,1966.9 195.4,1967.3 196.6,1967.3 197.8,1967.4 199,1966.2 200.2,1967.2 201.4,1967.4 202.6,1966 203.8,1967 205,1967.5 206.2,1967 207.4,1966.6 208.6,1967.3 209.8,1966.9 211,1966.9 212.2,1967.1 213.4,1967.4 214.6,1967.4 215.8,1967 217,1967.4 218.2,1966.9 219.4,1966 220.6,1967 221.8,1967.4 223,1967.3 224.2,1966.6 225.4,1967.1 226.6,1966.9 227.8,1966.8 229,1966.6 230.2,1967.5 231.4,1967 232.6,1967 233.8,1966.9 235,1966.4 236.2,1967.4 237.4,1967.2 238.6,1966.6 239.8,1966.8 241,1966.6 242.2,1967 243.4,1967.4 244.6,1966.6 245.8,1966.2 247,1966.4 248.2,1967.2 249.4,1967.4 250.6,1967.4 251.8,1967.4 253,1966.6 254.2,1967.1 255.4,1966.4 256.6,1966.4 257.8,1966.8 259,1967.3 260.2,1967.1 261.4,1966.5 262.6,1967.1 263.8,1967.3 265,1967.1 266.2,1966.5 267.4,1966.9 268.6,1967.4 269.8,1967.4 271,1966.6 272.2,1966.9 273.4,1967 274.6,1966.6 275.8,1966.8 277,1966.2 278.2,1967.1 279.4,1967.1 280.6,1966.2 281.8,1967.3 283,1967 284.2,1967.1 285.4,1966.7 286.6,1967.2 287.8,1967 289,1967.3 290.2,1966.4 291.4,1967.2 292.6,1967 293.8,1966.4 295,1967.2 296.2,1967 297.4,1967.3 298.6,1967.5 299.8,1966.9 301,1967 302.2,1967 303.4,1966 304.6,1967.1 305.8,1967.2 307,1966.6 308.2,1967.5 309.4,1966.4 310.6,1967.3 311.8,1966.8 313,1966.7 314.2,1967.4 315.4,1967.3 316.6,1966.3 317.8,1966.9 319,1966.6 320.2,1966.5 321.4,1967 322.6,1966.3 323.8,1967.5 325,1967.1 326.2,1967.3 327.4,1967.2 328.6,1967.4 329.8,1967.5 331,1967.2 332.2,1967.5 333.4,1967.5 334.6,1967.5 335.8,1967.3 337,1967.3 338.2,1967.3 339.4,1966.5 340.6,1967 341.8,1967 343,1967 344.2,1967.3 345.4,1967.1 346.6,1967.3 347.8,1966.7 349,1967.5 350.2,1966.7 351.4,1967 352.6,1967.5 353.8,1967.4 355,1967.2 356.2,1967.4 357.4,1966.9 358.6,1967.5 359.8,1967.4 361,1967 362.2,1966.9 363.4,1967.4 364.6,1967.1 365.8,1967.1 367,1967.5 368.2,1967.4 369.4,1967 370.6,1967.6 371.8,1967.3 373,1967.2 374.2,1967.3 375.4,1967.5 376.6,1966.6 377.8,1967 379,1967.5 380.2,1967.2 381.4,1966.5 382.6,1967.2 383.8,1966.6 385,1967.2 386.2,1967.6 387.4,1967.2 388.6,1966.8 389.8,1966.9 391,1967 392.2,1967.6 393.4,1967.3 394.6,1966.9 395.8,1967.5 397,1967.6 398.2,1967.2 399.4,1967.6 400.6,1967.5 401.8,1967.1 403,1966.8 404.2,1967.5 405.4,1967.5 406.6,1967.3 407.8,1967.6 409,1967.5 410.2,1967.2 411.4,1967.2 412.6,1967.4 413.8,1967 415,1967.3 416.2,1967.3 417.4,1966.3 418.6,1967 419.8,1966.9 421,1967.1 422.2,1967.2 423.4,1967.4 424.6,1967.1 425.8,1967.3 427,1967.3 428.2,1966.9 429.4,1967.4 430.6,1967.4 431.8,1966.9 433,1967.1 434.2,1967.2 435.4,1967.1 436.6,1966.6 437.8,1967.4 439,1966.7 440.2,1967.2 441.4,1967.1 442.6,1966.8 443.8,1967.1 445,1967.5 446.2,1966.7 447.4,1967.3 448.6,1967.6 449.8,1967.3 451,1966.8 452.2,1967 453.4,1967 454.6,1967.2 455.8,1967.8 457,1967.9 458.2,1967.9 459.4,1968 460.6,1967.8 461.8,1967.6 463,1967.9 464.2,1967.7 465.4,1968 466.6,1967.8 467.8,1968.3 469,1968.2 470.2,1968.3 471.4,1967.2 472.6,1968.6 473.8,1968.9 475,1968.9 476.2,1968.8 477.4,1967.7 478.6,1968.5 479.8,1967.8 481,1967.8 482.2,1967.6 483.4,1967.6 484.6,1966.9 485.8,1967.3 487,1967.3 488.2,1966.9 489.4,1966.5 490.6,1967.5 491.8,1966.8 493,1967.1 494.2,1967.6 495.4,1966.6 496.6,1967 497.8,1967.1 499,1967.2 500.2,1966.6 501.4,1966.6 502.6,1966.8 503.8,1966.8 505,1966.8 506.2,1967.9 507.4,1968 508.6,1968.3 509.8,1968.3 511,1968.9 512.2,1968.2 513.4,1968.6 514.6,1968.7 515.8,1968.5 517,1967.9 518.2,1968.3 519.4,1968.9 520.6,1968.2 521.8,1969.1 523,1968.3 524.2,1968.8 525.4,1968.5 526.6,1969.1 527.8,1968.8 529,1968.9 530.2,1968.8 531.4,1968.7 532.6,1968.6 533.8,1968.9 535,1969 536.2,1968.9 537.4,1969 538.6,1969.3 539.8,1968.8 541,1968.2 542.2,1968.1 543.4,1968.3 544.6,1967.5 545.8,1966.6 547,1967.8 548.2,1967.5 549.4,1967.6 550.6,1968.5 551.8,1968.2 553,1968.3 554.2,1969.4 555.4,1969.7 556.6,1969.9 557.8,1969.6 559,1968.6 560.2,1968.7 561.4,1967.6 562.6,1966.7 563.8,1967.3 565,1967.5 566.2,1966.3 567.4,1967.7 568.6,1967.5 569.8,1967.3 571,1968 572.2,1967.9 573.4,1967.2 574.6,1968.5 575.8,1968.6 577,1967.6 578.2,1967.6 579.4,1968.1 580.6,1967.8 581.8,1965.3 583,1966.5 584.2,1967.2 585.4,1967.9 586.6,1968.1 587.8,1968.1 589,1968.2 590.2,1968.4 591.4,1968.7 592.6,1968.2 593.8,1968.7 595,1967.6 596.2,1967.6 597.4,1966.8 598.6,1968.8 599.8,1968 601,1968.8 602.2,1969 603.4,1968.2 604.6,1969.2 605.8,1969.1 607,1969 608.2,1968.7 609.4,1969.5 610.6,1969.6 611.8,1968.6 613,1969.1 614.2,1967.6 615.4,1969.3 616.6,1969.7 617.8,1968.8 619,1967.1 620.2,1967.3 621.4,1968 622.6,1968.7 623.8,1968.3 625,1969.1 626.2,1969.6 627.4,1970.3 628.6,1969.9 629.8,1969.1 631,1969.9 632.2,1969.6 633.4,1969.9 634.6,1969.5 635.8,1968.9 637,1969.3 638.2,1969 639.4,1968.7 640.6,1968.3 641.8,1967.6 643,1968.1 644.2,1967.6 645.4,1967.7 646.6,1967.4 647.8,1967.6 649,1967.2 650.2,1965.3 651.4,1966.7 652.6,1966.8 653.8,1965.7 655,1964.5 656.2,1964.3 657.4,1966.8 658.6,1965.4 659.8,1965.4 661,1965.9 662.2,1967 663.4,1967.9 664.6,1964.3 665.8,1967.3 667,1967.3 668.2,1968.7 669.4,1963.4 670.6,1968.3 671.8,1967 673,1966.3 674.2,1968.2 675.4,1968.4 676.6,1965.2 677.8,1968.1 679,1968.4 680.2,1966.8 681.4,1967.9 682.6,1968.4 683.8,1966.4 685,1968.7 686.2,1967.8 687.4,1965.8 688.6,1966.4 689.8,1964.8 691,1961.9 692.2,1962.3 693.4,1961.1 694.6,1963.2 695.8,1965.1 697,1964.1 698.2,1964.7 699.4,1963.9 700.6,1963.4 701.8,1965 703,1965 704.2,1965.4 705.4,1965.1 706.6,1963.5 707.8,1965 709,1960.8 710.2,1966.1 711.4,1964 712.6,1959.8 713.8,1965.4 715,1965.4 716.2,1964.6 717.4,1967 718.6,1965.1 719.8,1966.1 721,1960.3 722.2,1965.8 723.4,1963.8 724.6,1964.4 725.8,1962.5 727,1963.4 728.2,1963.4 729.4,1963.1 730.6,1963.9 731.8,1963 733,1960.4 734.2,1958.4 735.4,1963.3 736.6,1964.5 737.8,1961.5 739,1962 740.2,1963.4 741.4,1964.9 742.6,1964 743.8,1959.7 745,1961.5 746.2,1965.2 747.4,1963.8 748.6,1963.3 749.8,1959.8 751,1964.3 752.2,1965.3 753.4,1963 754.6,1963.5 755.8,1964.9 757,1963.8 758.2,1963.1 759.4,1961 760.6,1966.5 761.8,1963.2 763,1963.1 764.2,1964.6 765.4,1964.5 766.6,1965.3 767.8,1965.6 769,1964.6 770.2,1966.6 771.4,1965.1 772.6,1965.9 773.8,1964.7 775,1965.9 776.2,1966.8 777.4,1966.9 778.6,1965.5 779.8,1967.1 781,1966.9 782.2,1964.7 783.4,1966.8 784.6,1964.7 785.8,1967.1 787,1967.1 788.2,1967.1 789.4,1967.1 790.6,1966 791.8,1966.3 793,1966.8 794.2,1965.8 795.4,1966.7 796.6,1966.9 797.8,1966.1 799,1966.9 800.2,1967.5 801.4,1967.4 802.6,1967.5 803.8,1967.1 805,1967.4 806.2,1966.8 807.4,1966.6 808.6,1966.3 809.8,1967.1 811,1966.6 812.2,1967 813.4,1967.3 814.6,1966.3 815.8,1967.4 817,1966.4 818.2,1967.3 819.4,1967.3 820.6,1967.2 821.8,1967.2 823,1966.8 824.2,1966.8 825.4,1967 826.6,1966.4 827.8,1966.3 829,1967.2 830.2,1967.4 831.4,1966.9 832.6,1966.8 833.8,1967.2 835,1967.3 836.2,1967.5 837.4,1967.3 838.6,1967.1 839.8,1967.3 841,1967.2 842.2,1966.8 843.4,1967 844.6,1966.9 845.8,1966.6 847,1967 848.2,1967.1 849.4,1967.4 850.6,1967.4 851.8,1967.1 853,1967.4 854.2,1966.8 855.4,1966.5 856.6,1967.2 857.8,1966.9 859,1967.4 860.2,1967.4 861.4,1967.3 862.6,1966.9 863.8,1966.6 865,1967.2 866.2,1967.1 867.4,1967 868.6,1967.3 869.8,1967.4 871,1967.4 872.2,1966.9 873.4,1966.6 874.6,1967.4 875.8,1966.5 877,1967.5 878.2,1967.2 879.4,1966.8 880.6,1967 881.8,1967.2 883,1967.4 884.2,1967 885.4,1967.2 886.6,1967.3 887.8,1967.1 889,1967.3 890.2,1967.5 891.4,1967.1 892.6,1967.3 893.8,1966.5 895,1966.2 896.2,1967 897.4,1966.4 898.6,1967.4 899.8,1967.2 901,1967.2 902.2,1967.4 903.4,1966.6 904.6,1967.2 905.8,1967 907,1967 908.2,1966.7 909.4,1967 910.6,1966.6 911.8,1967.1 913,1967.3 914.2,1967.4 915.4,1967 916.6,1967.1 917.8,1967.2 919,1967 920.2,1967.3 921.4,1967.2 922.6,1966.9 923.8,1967.1 925,1966.9 926.2,1967.2 927.4,1967.4 928.6,1965.9 929.8,1966.8 931,1967 932.2,1966.9 933.4,1966.9 934.6,1966.6 935.8,1966.7 937,1967.2 938.2,1966.3 939.4,1967.3 940.6,1966.8 941.8,1966.3 943,1967.4 944.2,1967.5 945.4,1966.9 946.6,1966.7 947.8,1967.3 949,1967.4 950.2,1966.9 951.4,1967.3 952.6,1967.2 953.8,1966.8 955,1967.2 956.2,1966.8 957.4,1967.3 958.6,1967 959.8,1967.1 961,1967 962.2,1967.2 963.4,1967.2 964.6,1967.2 965.8,1967.2 967,1967.2 968.2,1966.6 969.4,1967.4 970.6,1967.3 971.8,1966.7 973,1967.2 974.2,1966.4 975.4,1966.5 976.6,1966.6 977.8,1966.8 979,1967.4 980.2,1966 981.4,1967.2 982.6,1967.2 983.8,1967.4 985,1967.3 986.2,1966.6 987.4,1966.9 988.6,1966.7 989.8,1966.9 991,1967.2 992.2,1967.2 993.4,1966.5 994.6,1966.3 995.8,1967 997,1967.4 998.2,1967.3 999.4,1967.1 1000.6,1966.8 1001.8,1966.3 1003,1966.3 1004.2,1966.7 1005.4,1966.9 1006.6,1967 1007.8,1967.3 1009,1966.9 1010.2,1966.7 1011.4,1966.9 1012.6,1966.7 1013.8,1966.8 1015,1967.4 1016.2,1967.3 1017.4,1966.9 1018.6,1967 1019.8,1966.5 1021,1967.3 1022.2,1966.8 1023.4,1967.3 1024.6,1967.2 1025.8,1967 1027,1965.9 1028.2,1966.9 1029.4,1967.3 1030.6,1967.3 1031.8,1966.8 1033,1966.6 1034.2,1967 1035.4,1967 1036.6,1967.1 1037.8,1966.8 1039,1966.9 1040.2,1966.8 1041.4,1966.9 1042.6,1967.3 1043.8,1967.4 1045,1967.2 1046.2,1967.5 1047.4,1967.5 1048.6,1967.3 1049.8,1967.2 1051,1967.1 1052.2,1967.1 1053.4,1967.3 1054.6,1967.3 1055.8,1966.6 1057,1966.8 1058.2,1967.2 1059.4,1967.2 1060.6,1966.9 1061.8,1966.9 1063,1966.3 1064.2,1966.8 1065.4,1967.3 1066.6,1967.3 1067.8,1967.4 1069,1966.6 1070.2,1966.4 1071.4,1966.5 1072.6,1967.4 1073.8,1967.4 1075,1967.5 1076.2,1966.5 1077.4,1967.2 1078.6,1967.5 1079.8,1966.8 1081,1966.1 1082.2,1967.4 1083.4,1967.5 1084.6,1966.6 1085.8,1967.4 1087,1967.1 1088.2,1966.9 1089.4,1967.3 1090.6,1966.9 1091.8,1966.6 1093,1966.8 1094.2,1966.9 1095.4,1967 1096.6,1966.7 1097.8,1966.5 1099,1967 1100.2,1966 1101.4,1967.1 1102.6,1967.1 1103.8,1966.4 1105,1967.1 1106.2,1966.3 1107.4,1966.8 1108.6,1966.5 1109.8,1967.3 1111,1967 1112.2,1966.8 1113.4,1967 1114.6,1966.4 1115.8,1967 1117,1967.1 1118.2,1966.8 1119.4,1967 1120.6,1967.3 1121.8,1966.5 1123,1967.2 1124.2,1967.1 1125.4,1966.8 1126.6,1967.1 1127.8,1967.5 1129,1967.3 1130.2,1966.6 1131.4,1967.4 1132.6,1966.4 1133.8,1967 1135,1966.7 1136.2,1967.4 1137.4,1967.1 1138.6,1967 1139.8,1966.9 1141,1967.4 1142.2,1966.9 1143.4,1966.8 1144.6,1967.4 1145.8,1967.1 1147,1967.4 1148.2,1965.7 1149.4,1967.1 1150.6,1967.1 1150.6,1972.7 1149.4,1973 1148.2,1972.9 1147,1972.5 1145.8,1972.8 1144.6,1972.9 1143.4,1973 1142.2,1972.5 1141,1972.7 1139.8,1972.9 1138.6,1973.1 1137.4,1973.4 1136.2,1972.9 1135,1972.6 1133.8,1973 1132.6,1973.1 1131.4,1972.9 1130.2,1973.1 1129,1973.1 1127.8,1973.5 1126.6,1972.6 1125.4,1973.1 1124.2,1972.7 1123,1973.4 1121.8,1972.8 1120.6,1972.7 1119.4,1973.7 1118.2,1973.4 1117,1972.7 1115.8,1973.6 1114.6,1972.8 1113.4,1973.6 1112.2,1972.9 1111,1972.5 1109.8,1972.9 1108.6,1973.2 1107.4,1973.1 1106.2,1973 1105,1972.8 1103.8,1972.6 1102.6,1973.2 1101.4,1973.5 1100.2,1973.1 1099,1972.7 1097.8,1972.8 1096.6,1973.2 1095.4,1972.9 1094.2,1973.1 1093,1973.3 1091.8,1972.8 1090.6,1973.1 1089.4,1972.5 1088.2,1973.5 1087,1973.4 1085.8,1972.7 1084.6,1972.6 1083.4,1972.6 1082.2,1974 1081,1972.8 1079.8,1973.2 1078.6,1972.7 1077.4,1973.6 1076.2,1972.8 1075,1972.9 1073.8,1972.9 1072.6,1972.6 1071.4,1973.1 1070.2,1973.6 1069,1972.5 1067.8,1972.6 1066.6,1972.8 1065.4,1972.7 1064.2,1972.6 1063,1973.3 1061.8,1972.6 1060.6,1972.8 1059.4,1973.2 1058.2,1972.6 1057,1972.8 1055.8,1973.6 1054.6,1973.1 1053.4,1973.1 1052.2,1972.7 1051,1973.5 1049.8,1973 1048.6,1973.8 1047.4,1972.7 1046.2,1972.8 1045,1973.1 1043.8,1972.9 1042.6,1973.3 1041.4,1973.1 1040.2,1973 1039,1973.4 1037.8,1972.9 1036.6,1972.5 1035.4,1972.7 1034.2,1973 1033,1972.8 1031.8,1973.3 1030.6,1973.3 1029.4,1973 1028.2,1973.4 1027,1972.6 1025.8,1972.5 1024.6,1973 1023.4,1972.9 1022.2,1972.9 1021,1973.1 1019.8,1972.7 1018.6,1973 1017.4,1973.5 1016.2,1973.3 1015,1972.6 1013.8,1972.5 1012.6,1974 1011.4,1973.8 1010.2,1972.6 1009,1973.1 1007.8,1972.5 1006.6,1972.9 1005.4,1973.5 1004.2,1972.6 1003,1972.5 1001.8,1972.8 1000.6,1972.5 999.4,1972.5 998.2,1972.5 997,1972.8 995.8,1972.6 994.6,1972.9 993.4,1972.7 992.2,1973.3 991,1973.6 989.8,1973.6 988.6,1973.1 987.4,1973.6 986.2,1973.1 985,1972.8 983.8,1973.5 982.6,1972.7 981.4,1972.9 980.2,1972.6 979,1972.6 977.8,1973.4 976.6,1973.1 975.4,1972.9 974.2,1973 973,1973 971.8,1972.9 970.6,1973.2 969.4,1973 968.2,1972.5 967,1972.7 965.8,1972.8 964.6,1972.9 963.4,1973 962.2,1972.6 961,1972.6 959.8,1973.5 958.6,1973.2 957.4,1974.1 956.2,1972.7 955,1973.3 953.8,1973.3 952.6,1972.8 951.4,1973.6 950.2,1972.8 949,1973.5 947.8,1972.9 946.6,1973 945.4,1972.6 944.2,1973.2 943,1972.7 941.8,1973.8 940.6,1973.2 939.4,1973.4 938.2,1973.3 937,1973.2 935.8,1972.6 934.6,1972.8 933.4,1973 932.2,1972.8 931,1973.4 929.8,1972.7 928.6,1972.6 927.4,1973.1 926.2,1973.3 925,1973.8 923.8,1972.9 922.6,1972.8 921.4,1972.8 920.2,1973.4 919,1972.9 917.8,1973.3 916.6,1973 915.4,1973.2 914.2,1973.4 913,1973.7 911.8,1972.7 910.6,1972.9 909.4,1972.8 908.2,1973 907,1973.1 905.8,1973 904.6,1973.1 903.4,1973.1 902.2,1972.6 901,1972.7 899.8,1973.3 898.6,1973.1 897.4,1972.6 896.2,1972.8 895,1973.4 893.8,1972.6 892.6,1972.8 891.4,1972.5 890.2,1973 889,1972.8 887.8,1973.6 886.6,1973 885.4,1972.8 884.2,1973 883,1973.3 881.8,1973.1 880.6,1973.3 879.4,1973.4 878.2,1972.9 877,1973.4 875.8,1972.7 874.6,1973.2 873.4,1973.4 872.2,1972.9 871,1973 869.8,1972.6 868.6,1972.7 867.4,1972.9 866.2,1972.9 865,1973.5 863.8,1973 862.6,1973.1 861.4,1973.2 860.2,1972.9 859,1974 857.8,1973.4 856.6,1973.2 855.4,1972.6 854.2,1972.5 853,1974.2 851.8,1972.5 850.6,1972.9 849.4,1972.7 848.2,1972.6 847,1973.3 845.8,1972.9 844.6,1972.7 843.4,1973.2 842.2,1972.7 841,1972.9 839.8,1973.5 838.6,1972.6 837.4,1973.1 836.2,1972.9 835,1972.7 833.8,1972.9 832.6,1973.3 831.4,1973.4 830.2,1972.6 829,1972.8 827.8,1973.2 826.6,1973 825.4,1973.6 824.2,1973.3 823,1972.8 821.8,1973.4 820.6,1973.3 819.4,1972.5 818.2,1972.7 817,1973.3 815.8,1972.6 814.6,1973.1 813.4,1973.3 812.2,1972.7 811,1972.8 809.8,1973.6 808.6,1972.7 807.4,1973.9 806.2,1973.1 805,1973.8 803.8,1972.8 802.6,1973 801.4,1973.9 800.2,1972.9 799,1973.2 797.8,1973.2 796.6,1974.9 795.4,1974.6 794.2,1973.5 793,1974.1 791.8,1975.5 790.6,1975 789.4,1973.5 788.2,1973.7 787,1974.6 785.8,1974.6 784.6,1973.3 783.4,1975.3 782.2,1974.1 781,1974.4 779.8,1974.1 778.6,1973.5 777.4,1975.1 776.2,1973.7 775,1973.7 773.8,1975.2 772.6,1974.9 771.4,1974.7 770.2,1977 769,1975 767.8,1975.2 766.6,1974.5 765.4,1974.1 764.2,1975.3 763,1977.6 761.8,1976.3 760.6,1975.7 759.4,1980.3 758.2,1977.6 757,1976.4 755.8,1979.1 754.6,1977.2 753.4,1975.6 752.2,1976.1 751,1977.2 749.8,1976.2 748.6,1977.6 747.4,1975.7 746.2,1975.4 745,1977.2 743.8,1981.1 742.6,1976.9 741.4,1975.9 740.2,1975.6 739,1978.7 737.8,1975.3 736.6,1977.3 735.4,1977.3 734.2,1980.7 733,1978.2 731.8,1978.1 730.6,1977.6 729.4,1978 728.2,1980.1 727,1981.3 725.8,1981.6 724.6,1976.5 723.4,1976.3 722.2,1978.5 721,1976.7 719.8,1978.2 718.6,1978.3 717.4,1978.7 716.2,1978 715,1983.2 713.8,1977.7 712.6,1977.1 711.4,1984.1 710.2,1981.8 709,1983.9 707.8,1976.9 706.6,1976.3 705.4,1976.1 704.2,1980.7 703,1976.7 701.8,1975.9 700.6,1977.6 699.4,1978.1 698.2,1976.3 697,1976.2 695.8,1980.4 694.6,1975.4 693.4,1975.5 692.2,1976.2 691,1977.4 689.8,1975.9 688.6,1976.3 687.4,1976.9 686.2,1976.6 685,1976.6 683.8,1977 682.6,1981 681.4,1977.4 680.2,1976.4 679,1978.2 677.8,1977.2 676.6,1978.3 675.4,1977.5 674.2,1977.2 673,1977.8 671.8,1977.1 670.6,1976.3 669.4,1978.3 668.2,1977.4 667,1981.8 665.8,1978.1 664.6,1977.1 663.4,1977.6 662.2,1977.8 661,1977.3 659.8,1979 658.6,1975.2 657.4,1975.1 656.2,1977.4 655,1976.8 653.8,1974.5 652.6,1974.3 651.4,1974.4 650.2,1976.4 649,1974.8 647.8,1975.3 646.6,1976.5 645.4,1974.9 644.2,1975.7 643,1974.9 641.8,1975.4 640.6,1975.1 639.4,1976.3 638.2,1976 637,1976.2 635.8,1976 634.6,1976.5 633.4,1977.3 632.2,1976.7 631,1977.1 629.8,1977.1 628.6,1976.6 627.4,1978.1 626.2,1977.2 625,1976.5 623.8,1975.9 622.6,1975.7 621.4,1975.1 620.2,1976.2 619,1975.2 617.8,1975.4 616.6,1977.6 615.4,1976.2 614.2,1977.8 613,1976.3 611.8,1977.4 610.6,1976.5 609.4,1976.3 608.2,1976 607,1976.2 605.8,1975.9 604.6,1977.2 603.4,1976.3 602.2,1976.2 601,1976.2 599.8,1975.7 598.6,1975.4 597.4,1976.8 596.2,1977.2 595,1975.1 593.8,1975.2 592.6,1976.3 591.4,1975.3 590.2,1975.7 589,1975.5 587.8,1976.4 586.6,1976.2 585.4,1974.8 584.2,1974.8 583,1973.7 581.8,1974.3 580.6,1975.1 579.4,1974.6 578.2,1975.6 577,1975.3 575.8,1975.7 574.6,1976.3 573.4,1975 572.2,1975.1 571,1976.2 569.8,1974.4 568.6,1974.1 567.4,1974.2 566.2,1974.8 565,1974 563.8,1974.6 562.6,1975.7 561.4,1975.1 560.2,1976.2 559,1977.2 557.8,1976.5 556.6,1976.7 555.4,1976.9 554.2,1975.7 553,1975.7 551.8,1975.6 550.6,1974.9 549.4,1976.5 548.2,1974.8 547,1977.4 545.8,1975.4 544.6,1974.8 543.4,1974.9 542.2,1977.2 541,1975.7 539.8,1975.6 538.6,1975 537.4,1974.3 536.2,1975.6 535,1975.1 533.8,1974.5 532.6,1974.1 531.4,1974.1 530.2,1974.9 529,1974.4 527.8,1974.6 526.6,1974.3 525.4,1975.2 524.2,1974.4 523,1974.2 521.8,1974.3 520.6,1974.3 519.4,1974.3 518.2,1974.2 517,1973.9 515.8,1974.3 514.6,1973.8 513.4,1974.1 512.2,1974.1 511,1974.2 509.8,1974.5 508.6,1973.9 507.4,1973.7 506.2,1974.3 505,1973 503.8,1972.7 502.6,1973.1 501.4,1972.7 500.2,1972.5 499,1972.7 497.8,1972.6 496.6,1973.5 495.4,1973.3 494.2,1972.6 493,1973 491.8,1972.8 490.6,1972.6 489.4,1972.8 488.2,1972.8 487,1972.8 485.8,1972.8 484.6,1972.7 483.4,1972.9 482.2,1973.2 481,1973.6 479.8,1973.7 478.6,1974.1 477.4,1974.2 476.2,1974.3 475,1974.2 473.8,1974.2 472.6,1973.9 471.4,1974.8 470.2,1973.6 469,1974.7 467.8,1973.7 466.6,1973.5 465.4,1973.6 464.2,1973.2 463,1974 461.8,1973.2 460.6,1973.2 459.4,1973.2 458.2,1973.8 457,1973.5 455.8,1973.1 454.6,1973.1 453.4,1973.7 452.2,1973.4 451,1973.7 449.8,1972.7 448.6,1973.1 447.4,1973.8 446.2,1973.2 445,1972.7 443.8,1973 442.6,1972.5 441.4,1972.9 440.2,1972.8 439,1972.9 437.8,1972.8 436.6,1972.5 435.4,1973.5 434.2,1972.9 433,1972.7 431.8,1972.6 430.6,1972.6 429.4,1973.7 428.2,1973.1 427,1973.1 425.8,1972.6 424.6,1973.1 423.4,1973.3 422.2,1973.8 421,1972.7 419.8,1973.9 418.6,1972.6 417.4,1972.7 416.2,1972.8 415,1972.6 413.8,1972.6 412.6,1973 411.4,1973.3 410.2,1972.7 409,1972.6 407.8,1973.1 406.6,1972.9 405.4,1972.8 404.2,1973.4 403,1972.7 401.8,1972.6 400.6,1974.1 399.4,1973 398.2,1972.8 397,1973 395.8,1972.8 394.6,1972.6 393.4,1973.5 392.2,1972.6 391,1973.2 389.8,1972.9 388.6,1973.2 387.4,1973 386.2,1972.7 385,1973.4 383.8,1973.2 382.6,1973.6 381.4,1972.6 380.2,1973.1 379,1973.6 377.8,1973.1 376.6,1972.9 375.4,1973.4 374.2,1972.6 373,1972.9 371.8,1973.7 370.6,1973.4 369.4,1972.9 368.2,1973 367,1972.6 365.8,1972.9 364.6,1972.6 363.4,1973.2 362.2,1972.7 361,1972.6 359.8,1973.1 358.6,1974 357.4,1972.7 356.2,1974 355,1973.1 353.8,1973.2 352.6,1973 351.4,1973.2 350.2,1973.1 349,1972.9 347.8,1972.9 346.6,1972.7 345.4,1972.8 344.2,1973.3 343,1973.4 341.8,1974 340.6,1973 339.4,1972.6 338.2,1973.1 337,1972.6 335.8,1973.1 334.6,1973.2 333.4,1972.6 332.2,1972.6 331,1972.5 329.8,1973 328.6,1973 327.4,1972.6 326.2,1972.7 325,1972.6 323.8,1972.8 322.6,1972.9 321.4,1972.7 320.2,1973 319,1973.1 317.8,1973.3 316.6,1973.1 315.4,1973 314.2,1972.6 313,1972.9 311.8,1973.5 310.6,1972.9 309.4,1973.1 308.2,1972.8 307,1972.7 305.8,1972.8 304.6,1973.9 303.4,1973.1 302.2,1973 301,1972.5 299.8,1972.7 298.6,1972.6 297.4,1972.9 296.2,1972.5 295,1973 293.8,1972.6 292.6,1972.9 291.4,1973.8 290.2,1973.4 289,1972.7 287.8,1973.2 286.6,1973.6 285.4,1972.8 284.2,1972.7 283,1972.9 281.8,1972.7 280.6,1972.9 279.4,1972.6 278.2,1973.5 277,1972.6 275.8,1972.7 274.6,1972.5 273.4,1972.9 272.2,1972.8 271,1972.8 269.8,1973.1 268.6,1972.9 267.4,1972.9 266.2,1972.8 265,1973 263.8,1973.1 262.6,1973 261.4,1972.5 260.2,1972.6 259,1972.5 257.8,1972.4 256.6,1973 255.4,1973 254.2,1972.9 253,1973.3 251.8,1973 250.6,1973.2 249.4,1972.9 248.2,1972.8 247,1972.9 245.8,1972.6 244.6,1972.6 243.4,1972.5 242.2,1973 241,1972.5 239.8,1973.3 238.6,1973 237.4,1972.7 236.2,1972.8 235,1973.2 233.8,1972.5 232.6,1973.3 231.4,1973.3 230.2,1973.1 229,1973 227.8,1972.9 226.6,1973.3 225.4,1973 224.2,1973.3 223,1972.8 221.8,1972.9 220.6,1972.6 219.4,1973.1 218.2,1972.6 217,1973.3 215.8,1972.6 214.6,1972.6 213.4,1973.1 212.2,1973.3 211,1973.3 209.8,1974 208.6,1972.8 207.4,1972.7 206.2,1973.3 205,1973 203.8,1973.1 202.6,1972.8 201.4,1972.5 200.2,1972.6 199,1972.7 197.8,1972.8 196.6,1972.9 195.4,1972.6 194.2,1972.6 193,1973.9 191.8,1972.7 190.6,1973 189.4,1972.7 188.2,1972.7 187,1972.8 185.8,1972.5 184.6,1972.6 183.4,1972.8 182.2,1972.6 181,1973 179.8,1972.8 178.6,1973.2 177.4,1973 176.2,1972.6 175,1972.6 173.8,1972.7 172.6,1973 171.4,1972.5 170.2,1972.7 169,1973.1 167.8,1972.8 166.6,1972.6 165.4,1973.4 164.2,1973 163,1973.5 161.8,1972.8 160.6,1972.8 159.4,1973.2 158.2,1972.8 157,1972.8 155.8,1972.7 154.6,1972.5 153.4,1973 152.2,1972.9 151,1973.8 149.8,1972.8 148.6,1972.6 147.4,1973.6 146.2,1972.7 145,1973.1 143.8,1972.8 142.6,1973.2 141.4,1972.7 140.2,1973 139,1972.9 137.8,1972.5 136.6,1972.9 135.4,1972.6 134.2,1973.2 133,1973.3 131.8,1972.6 130.6,1973.1 129.4,1973 128.2,1972.6 127,1972.5 125.8,1972.9 124.6,1973.1 123.4,1973.4 122.2,1972.7 121,1972.8 119.8,1972.5 118.6,1972.7 117.4,1973.4 116.2,1972.8 115,1973 113.8,1972.6 112.6,1972.6 111.4,1972.7 110.2,1972.6 109,1972.7 107.8,1972.8" fill="#1f77b4" stroke="#1f77b4" stroke-width="0.8" stroke-linejoin="round"/>
<circle cx="109" cy="1970.3" r="3.2" fill="#1f77b4"/>
<circle cx="1150.7" cy="1970.3" r="3.2" fill="#1f77b4"/>
<line x1="582.4" y1="1830" x2="582.4" y2="1975" stroke="#1f77b4" stroke-width="3" stroke-dasharray="8 2.6"/>
<line x1="560" y1="1985" x2="560" y2="2002.5" stroke="#1f77b4" stroke-width="3" stroke-dasharray="7.7 3.3"/>
<line x1="607" y1="1830" x2="607" y2="1975" stroke="#1f77b4" stroke-width="3" stroke-dasharray="10 1.5"/>
<line x1="609.2" y1="1827.5" x2="609.2" y2="1975" stroke="#1f77b4" stroke-width="3" stroke-dasharray="9 2"/>
<line x1="610.6" y1="1890" x2="610.6" y2="1960" stroke="#1f77b4" stroke-width="3" stroke-dasharray="6 5"/>
<line x1="615.3" y1="1835" x2="615.3" y2="1987" stroke="#1f77b4" stroke-width="3" stroke-dasharray="8 2.6"/>
<line x1="651.7" y1="1828" x2="651.7" y2="1975" stroke="#1f77b4" stroke-width="3" stroke-dasharray="8 2.4"/>
<line x1="653.6" y1="2008" x2="653.6" y2="2048.5" stroke="#1f77b4" stroke-width="3" stroke-dasharray="8 2.4"/>
<line x1="710.7" y1="1948.8" x2="710.7" y2="1995.3" stroke="#1f77b4" stroke-width="3" stroke-dasharray="7.7 3.3"/>
<path d="M652.3 1880L652.6 1975L653.4 2010" fill="none" stroke="#1f77b4" stroke-width="3.6" stroke-linecap="round"/>
<line x1="560" y1="1961.5" x2="560" y2="1984" stroke="#1f77b4" stroke-width="2.8" stroke-linecap="round"/>
<line x1="545" y1="1962" x2="545" y2="1978" stroke="#1f77b4" stroke-width="2.8" stroke-linecap="round"/>
<line x1="479" y1="1963" x2="479" y2="1977" stroke="#1f77b4" stroke-width="2.8" stroke-linecap="round"/>
<line x1="664.4" y1="1965" x2="664.4" y2="1982.8" stroke="#1f77b4" stroke-width="2.8" stroke-linecap="round"/>
<line x1="671.7" y1="1963.7" x2="671.7" y2="1982.8" stroke="#1f77b4" stroke-width="2.8" stroke-linecap="round"/>
<line x1="679.6" y1="1959.7" x2="679.6" y2="1988.1" stroke="#1f77b4" stroke-width="2.8" stroke-linecap="round"/>
<line x1="691.5" y1="1957" x2="691.5" y2="1989.4" stroke="#1f77b4" stroke-width="2.8" stroke-linecap="round"/>
<line x1="695.5" y1="1959" x2="695.5" y2="1981.5" stroke="#1f77b4" stroke-width="2.8" stroke-linecap="round"/>
<line x1="703.4" y1="1958.4" x2="703.4" y2="1984.2" stroke="#1f77b4" stroke-width="2.8" stroke-linecap="round"/>
<line x1="714.6" y1="1957.7" x2="714.6" y2="1983.5" stroke="#1f77b4" stroke-width="2.8" stroke-linecap="round"/>
<line x1="723.2" y1="1963" x2="723.2" y2="1980.9" stroke="#1f77b4" stroke-width="2.8" stroke-linecap="round"/>
<line x1="730.5" y1="1961" x2="730.5" y2="1982.8" stroke="#1f77b4" stroke-width="2.8" stroke-linecap="round"/>
<line x1="737.8" y1="1959.7" x2="737.8" y2="1980.2" stroke="#1f77b4" stroke-width="2.8" stroke-linecap="round"/>
<line x1="742.4" y1="1961.7" x2="742.4" y2="1979.5" stroke="#1f77b4" stroke-width="2.8" stroke-linecap="round"/>
<line x1="748.3" y1="1953.8" x2="748.3" y2="1980.9" stroke="#1f77b4" stroke-width="2.8" stroke-linecap="round"/>
<line x1="752.3" y1="1962.4" x2="752.3" y2="1977.5" stroke="#1f77b4" stroke-width="2.8" stroke-linecap="round"/>
<line x1="759.5" y1="1958.4" x2="759.5" y2="1982.8" stroke="#1f77b4" stroke-width="2.8" stroke-linecap="round"/>
<line x1="770.1" y1="1961.7" x2="770.1" y2="1976" stroke="#1f77b4" stroke-width="2.8" stroke-linecap="round"/>
<line x1="788" y1="1964" x2="788" y2="1976" stroke="#1f77b4" stroke-width="2.8" stroke-linecap="round"/>
<line x1="615.4" y1="1975" x2="615.4" y2="1986" stroke="#1f77b4" stroke-width="2.8" stroke-linecap="round"/>
<line x1="427.5" y1="1964" x2="427.5" y2="1976" stroke="#1f77b4" stroke-width="2.8" stroke-linecap="round"/>
<line x1="637" y1="1963" x2="637" y2="1978" stroke="#1f77b4" stroke-width="2.8" stroke-linecap="round"/>
<line x1="598" y1="1963.5" x2="598" y2="1977" stroke="#1f77b4" stroke-width="2.8" stroke-linecap="round"/>
<line x1="1100" y1="1964" x2="1100" y2="1975" stroke="#1f77b4" stroke-width="2.8" stroke-linecap="round"/>
<line x1="1046" y1="1964.5" x2="1046" y2="1975" stroke="#1f77b4" stroke-width="2.8" stroke-linecap="round"/>
<line x1="905" y1="1964.5" x2="905" y2="1975.5" stroke="#1f77b4" stroke-width="2.8" stroke-linecap="round"/>
<rect x="56.5" y="1817.5" width="1146" height="244" fill="none" stroke="#000" stroke-width="1"/>
<line x1="107.5" y1="2061.5" x2="107.5" y2="2066.7" stroke="#000" stroke-width="1"/>
<text x="107.4" y="2083" text-anchor="middle" class="tk">0</text>
<line x1="252.5" y1="2061.5" x2="252.5" y2="2066.7" stroke="#000" stroke-width="1"/>
<text x="252.4" y="2083" text-anchor="middle" class="tk">200</text>
<line x1="397.5" y1="2061.5" x2="397.5" y2="2066.7" stroke="#000" stroke-width="1"/>
<text x="397.4" y="2083" text-anchor="middle" class="tk">400</text>
<line x1="542.5" y1="2061.5" x2="542.5" y2="2066.7" stroke="#000" stroke-width="1"/>
<text x="542.4" y="2083" text-anchor="middle" class="tk">600</text>
<line x1="687.5" y1="2061.5" x2="687.5" y2="2066.7" stroke="#000" stroke-width="1"/>
<text x="687.4" y="2083" text-anchor="middle" class="tk">800</text>
<line x1="832.5" y1="2061.5" x2="832.5" y2="2066.7" stroke="#000" stroke-width="1"/>
<text x="832.4" y="2083" text-anchor="middle" class="tk">1000</text>
<line x1="976.5" y1="2061.5" x2="976.5" y2="2066.7" stroke="#000" stroke-width="1"/>
<text x="976.4" y="2083" text-anchor="middle" class="tk">1200</text>
<line x1="1121.5" y1="2061.5" x2="1121.5" y2="2066.7" stroke="#000" stroke-width="1"/>
<text x="1121.4" y="2083" text-anchor="middle" class="tk">1400</text>
<line x1="51.3" y1="2026.5" x2="56.5" y2="2026.5" stroke="#000" stroke-width="1"/>
<text x="45.1" y="2031.5" text-anchor="end" class="tk">-5</text>
<line x1="51.3" y1="1970.5" x2="56.5" y2="1970.5" stroke="#000" stroke-width="1"/>
<text x="46.5" y="1975.5" text-anchor="end" class="tk">0</text>
<line x1="51.3" y1="1913.5" x2="56.5" y2="1913.5" stroke="#000" stroke-width="1"/>
<text x="46.5" y="1918.5" text-anchor="end" class="tk">5</text>
<line x1="51.3" y1="1857.5" x2="56.5" y2="1857.5" stroke="#000" stroke-width="1"/>
<text x="45.1" y="1862.5" text-anchor="end" class="tk">10</text>
<text x="628.4" y="2101.5" text-anchor="middle">minute</text>
<rect x="1039.6" y="1823.7" width="155.7" height="25.5" rx="2.8" fill="#fff" fill-opacity="0.8" stroke="#ccc" stroke-width="1.1"/>
<line x1="1044.7" y1="1835" x2="1072.5" y2="1835" stroke="#1f77b4" stroke-width="2.1" stroke-dasharray="7.7 3.3"/>
<path d="M1057.1 1835.9h2.4l-1.2 1.4z" fill="#1f77b4"/>
<text x="1088.4" y="1840.4">Ws_E44_dydt1</text>
<line x1="107.5" y1="2113.5" x2="107.5" y2="2358.5" stroke="#b0b0b0" stroke-width="1"/>
<line x1="252.5" y1="2113.5" x2="252.5" y2="2358.5" stroke="#b0b0b0" stroke-width="1"/>
<line x1="397.5" y1="2113.5" x2="397.5" y2="2358.5" stroke="#b0b0b0" stroke-width="1"/>
<line x1="542.5" y1="2113.5" x2="542.5" y2="2358.5" stroke="#b0b0b0" stroke-width="1"/>
<line x1="687.5" y1="2113.5" x2="687.5" y2="2358.5" stroke="#b0b0b0" stroke-width="1"/>
<line x1="832.5" y1="2113.5" x2="832.5" y2="2358.5" stroke="#b0b0b0" stroke-width="1"/>
<line x1="976.5" y1="2113.5" x2="976.5" y2="2358.5" stroke="#b0b0b0" stroke-width="1"/>
<line x1="1121.5" y1="2113.5" x2="1121.5" y2="2358.5" stroke="#b0b0b0" stroke-width="1"/>
<line x1="56.5" y1="2355.5" x2="1202.5" y2="2355.5" stroke="#b0b0b0" stroke-width="1"/>
<line x1="56.5" y1="2322.5" x2="1202.5" y2="2322.5" stroke="#b0b0b0" stroke-width="1"/>
<line x1="56.5" y1="2289.5" x2="1202.5" y2="2289.5" stroke="#b0b0b0" stroke-width="1"/>
<line x1="56.5" y1="2255.5" x2="1202.5" y2="2255.5" stroke="#b0b0b0" stroke-width="1"/>
<line x1="56.5" y1="2222.5" x2="1202.5" y2="2222.5" stroke="#b0b0b0" stroke-width="1"/>
<line x1="56.5" y1="2188.5" x2="1202.5" y2="2188.5" stroke="#b0b0b0" stroke-width="1"/>
<line x1="56.5" y1="2155.5" x2="1202.5" y2="2155.5" stroke="#b0b0b0" stroke-width="1"/>
<line x1="56.5" y1="2121.5" x2="1202.5" y2="2121.5" stroke="#b0b0b0" stroke-width="1"/>
<polyline points="107.8,2288.8 109.8,2288.8 111.8,2289 113.8,2288.8 115.8,2288.8 117.8,2288.8 119.8,2288.6 121.8,2288.8 123.8,2288.8 125.8,2288.9 127.8,2288.6 129.8,2288.7 131.8,2288.6 133.8,2288.9 135.8,2288.9 137.8,2288.5 139.8,2289 141.8,2289 143.8,2288.8 145.8,2288.8 147.8,2288.6 149.8,2288.5 151.8,2288.7 153.8,2288.5 155.8,2288.6 157.8,2288.6 159.8,2288.5 161.8,2288.7 163.8,2288.7 165.8,2288.9 167.8,2288.8 169.8,2288.9 171.8,2288.8 173.8,2288.9 175.8,2288.8 177.8,2288.7 179.8,2289.1 181.8,2289.1 183.8,2289 185.8,2288.9 187.8,2288.7 189.8,2288.7 191.8,2288.7 193.8,2288.6 195.8,2289 197.8,2288.8 199.8,2289 201.8,2288.8 203.8,2289.1 205.8,2289 207.8,2288.6 209.8,2288.7 211.8,2289 213.8,2288.8 215.8,2289 217.8,2288.7 219.8,2288.6 221.8,2288.8 223.8,2288.9 225.8,2288.7 227.8,2288.6 229.8,2288.7 231.8,2289 233.8,2288.9 235.8,2288.5 237.8,2288.6 239.8,2288.5 241.8,2288.5 243.8,2288.9 245.8,2288.5 247.8,2288.7 249.8,2288.7 251.8,2288.5 253.8,2288.8 255.8,2288.5 257.8,2288.8 259.8,2288.5 261.8,2288.7 263.8,2288.6 265.8,2288.6 267.8,2289 269.8,2288.9 271.8,2288.6 273.8,2288.9 275.8,2288.6 277.8,2288.7 279.8,2288.9 281.8,2288.8 283.8,2288.6 285.8,2289 287.8,2288.6 289.8,2288.7 291.8,2288.9 293.8,2288.7 295.8,2288.7 297.8,2288.6 299.8,2288.6 301.8,2288.9 303.8,2288.7 305.8,2288.9 307.8,2288.8 309.8,2288.8 311.8,2289.1 313.8,2288.8 315.8,2288.9 317.8,2289 319.8,2288.7 321.8,2288.7 323.8,2289.1 325.8,2289 327.8,2288.8 329.8,2288.7 331.8,2289 333.8,2289.1 335.8,2288.8 337.8,2289.1 339.8,2289.1 341.8,2289 343.8,2288.9 345.8,2288.7 347.8,2288.7 349.8,2289.2 351.8,2288.8 353.8,2289.1 355.8,2288.8 357.8,2289.1 359.8,2289 361.8,2288.9 363.8,2288.8 365.8,2289.1 367.8,2288.8 369.8,2288.8 371.8,2289 373.8,2289.2 375.8,2289 377.8,2288.9 379.8,2289.2 381.8,2288.8 383.8,2288.8 385.8,2288.9 387.8,2289 389.8,2288.8 391.8,2288.9 393.8,2289 395.8,2289.1 397.8,2288.8 399.8,2289 401.8,2289.2 403.8,2289.2 405.8,2289.1 407.8,2289.1 409.8,2289 411.8,2288.8 413.8,2288.7 415.8,2288.7 417.8,2289.2 419.8,2289 421.8,2289.2 423.8,2288.7 425.8,2289 427.8,2288.9 429.8,2289 431.8,2288.8 433.8,2289.1 435.8,2288.7 437.8,2288.9 439.8,2289 441.8,2289.1 443.8,2289 445.8,2289 447.8,2289.2 449.8,2289.4 451.8,2289.2 453.8,2289.5 455.8,2289.7 457.8,2289.8 459.8,2289.8 461.8,2290.1 463.8,2290.2 465.8,2290.3 467.8,2290.6 469.8,2290.8 471.8,2291.2 473.8,2291.6 475.8,2291.2 477.8,2291 479.8,2290.7 481.8,2290.1 483.8,2289.5 485.8,2288.9 487.8,2288.7 489.8,2288.9 491.8,2289 493.8,2289.2 495.8,2288.7 497.8,2288.9 499.8,2288.5 501.8,2288.7 503.8,2288.8 505.8,2289.5 507.8,2290.6 509.8,2291.3 511.8,2291.6 513.8,2291.5 515.8,2291 517.8,2290.9 519.8,2291.5 521.8,2292 523.8,2291.7 525.8,2291.7 527.8,2292 529.8,2291.8 531.8,2291.7 533.8,2292 535.8,2291.9 537.8,2292.3 539.8,2292.3 541.8,2292.1 543.8,2291.8 545.8,2291.3 547.8,2291.5 549.8,2291.6 551.8,2292.1 553.8,2293.1 555.8,2294.5 557.8,2295 559.8,2293.5 561.8,2291.9 563.8,2290.2 565.8,2290.5 567.8,2290.4 569.8,2290.5 571.8,2291.2 573.8,2291.7 575.8,2292.4 577.8,2292.4 579.8,2291.3 581.8,2289.9 583.8,2290.1 585.8,2291.9 587.8,2292.6 589.8,2292.3 591.8,2292 593.8,2291.9 595.8,2292.4 597.8,2292.1 599.8,2292.7 601.8,2292.9 603.8,2293 605.8,2293.5 607.8,2293.3 609.8,2293.6 611.8,2294 613.8,2294 615.8,2294.6 617.8,2293 619.8,2291.6 621.8,2292.3 623.8,2293.7 625.8,2294.8 627.8,2295.2 629.8,2295 631.8,2294.8 633.8,2294.6 635.8,2294.2 637.8,2293.2 639.8,2292.5 641.8,2291.3 643.8,2290.9 645.8,2291.4 647.8,2291.2 649.8,2289.8 651.8,2289.3 653.8,2290.5 655.8,2291.9 657.8,2291.5 659.8,2292.4 661.8,2293.4 663.8,2293.7 665.8,2294.6 667.8,2294.5 669.8,2293.1 671.8,2294.1 673.8,2293.7 675.8,2292.7 677.8,2293.1 679.8,2293.7 681.8,2294.4 683.8,2293.7 685.8,2292.9 687.8,2292.3 689.8,2291 691.8,2290 693.8,2288.9 695.8,2290 697.8,2290.2 699.8,2290.9 701.8,2290.8 703.8,2290.6 705.8,2291.2 707.8,2291 709.8,2292.4 711.8,2292.7 713.8,2292.9 715.8,2292.5 717.8,2293 719.8,2291.8 721.8,2292.1 723.8,2291.5 725.8,2290.5 727.8,2289.8 729.8,2290 731.8,2289.9 733.8,2289.9 735.8,2289.2 737.8,2288.4 739.8,2289.3 741.8,2288.2 743.8,2289.1 745.8,2288.7 747.8,2289.5 749.8,2290.6 751.8,2289.5 753.8,2289.4 755.8,2289.7 757.8,2289.9 759.8,2289.9 761.8,2289.6 763.8,2289.9 765.8,2289.1 767.8,2290 769.8,2289 771.8,2289.4 773.8,2289.9 775.8,2289.5 777.8,2290 779.8,2289.7 781.8,2289.4 783.8,2289.4 785.8,2289.2 787.8,2289 789.8,2289 791.8,2289.2 793.8,2289.2 795.8,2288.8 797.8,2289.1 799.8,2289.1 801.8,2288.8 803.8,2288.8 805.8,2288.6 807.8,2288.8 809.8,2288.7 811.8,2288.8 813.8,2288.5 815.8,2289 817.8,2288.8 819.8,2288.7 821.8,2288.9 823.8,2288.8 825.8,2288.8 827.8,2288.9 829.8,2288.6 831.8,2288.9 833.8,2288.8 835.8,2289.1 837.8,2289.1 839.8,2288.8 841.8,2288.9 843.8,2288.7 845.8,2288.9 847.8,2289.1 849.8,2289.1 851.8,2288.9 853.8,2288.8 855.8,2288.7 857.8,2288.9 859.8,2289.1 861.8,2288.7 863.8,2289 865.8,2288.6 867.8,2288.7 869.8,2288.7 871.8,2288.9 873.8,2288.7 875.8,2288.8 877.8,2288.9 879.8,2288.6 881.8,2288.9 883.8,2288.6 885.8,2288.8 887.8,2288.7 889.8,2288.6 891.8,2288.8 893.8,2288.7 895.8,2288.7 897.8,2288.7 899.8,2288.8 901.8,2288.6 903.8,2288.6 905.8,2288.9 907.8,2288.9 909.8,2288.8 911.8,2289 913.8,2288.9 915.8,2289 917.8,2288.7 919.8,2289 921.8,2289 923.8,2289.1 925.8,2288.8 927.8,2288.8 929.8,2289.1 931.8,2288.8 933.8,2289.1 935.8,2289.1 937.8,2288.7 939.8,2288.8 941.8,2289 943.8,2288.8 945.8,2288.7 947.8,2289.1 949.8,2288.9 951.8,2289.1 953.8,2288.7 955.8,2288.9 957.8,2289 959.8,2288.7 961.8,2288.7 963.8,2289 965.8,2289.1 967.8,2289.1 969.8,2288.7 971.8,2288.9 973.8,2289 975.8,2288.8 977.8,2288.9 979.8,2288.7 981.8,2288.6 983.8,2288.6 985.8,2288.6 987.8,2288.8 989.8,2288.8 991.8,2288.8 993.8,2288.6 995.8,2288.6 997.8,2288.6 999.8,2289 1001.8,2289 1003.8,2289 1005.8,2288.6 1007.8,2288.6 1009.8,2289 1011.8,2288.8 1013.8,2288.9 1015.8,2288.7 1017.8,2288.8 1019.8,2288.8 1021.8,2288.8 1023.8,2288.9 1025.8,2288.6 1027.8,2289 1029.8,2289 1031.8,2288.7 1033.8,2288.8 1035.8,2289 1037.8,2288.8 1039.8,2288.7 1041.8,2288.7 1043.8,2288.9 1045.8,2288.7 1047.8,2289.1 1049.8,2289 1051.8,2289 1053.8,2289.1 1055.8,2288.9 1057.8,2288.8 1059.8,2288.9 1061.8,2288.9 1063.8,2289.1 1065.8,2289 1067.8,2288.7 1069.8,2289 1071.8,2289 1073.8,2289 1075.8,2289 1077.8,2288.8 1079.8,2289 1081.8,2289 1083.8,2288.9 1085.8,2288.9 1087.8,2288.9 1089.8,2288.7 1091.8,2288.9 1093.8,2288.6 1095.8,2288.7 1097.8,2288.8 1099.8,2288.5 1101.8,2288.7 1103.8,2288.9 1105.8,2288.9 1107.8,2288.7 1109.8,2289 1111.8,2288.9 1113.8,2288.7 1115.8,2288.9 1117.8,2288.8 1119.8,2288.8 1121.8,2288.8 1123.8,2289.1 1125.8,2288.9 1127.8,2288.9 1129.8,2289 1131.8,2289.1 1133.8,2288.6 1135.8,2288.9 1137.8,2289 1139.8,2288.7 1141.8,2288.8 1143.8,2288.6 1145.8,2288.7 1147.8,2288.8 1149.8,2288.7" fill="none" stroke="#1f77b4" stroke-width="4.0" stroke-linejoin="round" stroke-linecap="round"/>
<line x1="582.4" y1="2197.6" x2="582.4" y2="2292" stroke="#1f77b4" stroke-width="3.4" stroke-dasharray="9 1.2"/>
<line x1="607.6" y1="2126" x2="607.6" y2="2292" stroke="#1f77b4" stroke-width="3.0" stroke-dasharray="8 2.2"/>
<line x1="609.6" y1="2123.5" x2="609.6" y2="2292" stroke="#1f77b4" stroke-width="3.0" stroke-dasharray="8 2.4"/>
<line x1="615.3" y1="2201" x2="615.3" y2="2292" stroke="#1f77b4" stroke-width="3.4" stroke-dasharray="9 1.2"/>
<line x1="651.9" y1="2130" x2="651.9" y2="2292" stroke="#1f77b4" stroke-width="3.4" stroke-dasharray="10 1"/>
<line x1="652.9" y1="2200" x2="652.9" y2="2292" stroke="#1f77b4" stroke-width="2.6" stroke-dasharray="8 3"/>
<path d="M653.0 2290L654.3 2320L654.4 2347.5" fill="none" stroke="#1f77b4" stroke-width="3.5" stroke-linecap="round"/>
<line x1="560" y1="2291" x2="560" y2="2300.7" stroke="#1f77b4" stroke-width="2.8" stroke-linecap="round"/>
<line x1="615.6" y1="2292" x2="615.6" y2="2302.5" stroke="#1f77b4" stroke-width="2.8" stroke-linecap="round"/>
<line x1="611" y1="2290" x2="611" y2="2298" stroke="#1f77b4" stroke-width="2.8" stroke-linecap="round"/>
<line x1="691" y1="2284.5" x2="691" y2="2297" stroke="#1f77b4" stroke-width="2.8" stroke-linecap="round"/>
<rect x="56.5" y="2113.5" width="1146" height="245" fill="none" stroke="#000" stroke-width="1"/>
<line x1="107.5" y1="2358.5" x2="107.5" y2="2363.7" stroke="#000" stroke-width="1"/>
<text x="107.4" y="2379.1" text-anchor="middle" class="tk">0</text>
<line x1="252.5" y1="2358.5" x2="252.5" y2="2363.7" stroke="#000" stroke-width="1"/>
<text x="252.4" y="2379.1" text-anchor="middle" class="tk">200</text>
<line x1="397.5" y1="2358.5" x2="397.5" y2="2363.7" stroke="#000" stroke-width="1"/>
<text x="397.4" y="2379.1" text-anchor="middle" class="tk">400</text>
<line x1="542.5" y1="2358.5" x2="542.5" y2="2363.7" stroke="#000" stroke-width="1"/>
<text x="542.4" y="2379.1" text-anchor="middle" class="tk">600</text>
<line x1="687.5" y1="2358.5" x2="687.5" y2="2363.7" stroke="#000" stroke-width="1"/>
<text x="687.4" y="2379.1" text-anchor="middle" class="tk">800</text>
<line x1="832.5" y1="2358.5" x2="832.5" y2="2363.7" stroke="#000" stroke-width="1"/>
<text x="832.4" y="2379.1" text-anchor="middle" class="tk">1000</text>
<line x1="976.5" y1="2358.5" x2="976.5" y2="2363.7" stroke="#000" stroke-width="1"/>
<text x="976.4" y="2379.1" text-anchor="middle" class="tk">1200</text>
<line x1="1121.5" y1="2358.5" x2="1121.5" y2="2363.7" stroke="#000" stroke-width="1"/>
<text x="1121.4" y="2379.1" text-anchor="middle" class="tk">1400</text>
<line x1="51.3" y1="2355.5" x2="56.5" y2="2355.5" stroke="#000" stroke-width="1"/>
<text x="45.1" y="2360.5" text-anchor="end" class="tk">-4</text>
<line x1="51.3" y1="2322.5" x2="56.5" y2="2322.5" stroke="#000" stroke-width="1"/>
<text x="45.1" y="2327.5" text-anchor="end" class="tk">-2</text>
<line x1="51.3" y1="2289.5" x2="56.5" y2="2289.5" stroke="#000" stroke-width="1"/>
<text x="46.5" y="2294.5" text-anchor="end" class="tk">0</text>
<line x1="51.3" y1="2255.5" x2="56.5" y2="2255.5" stroke="#000" stroke-width="1"/>
<text x="46.5" y="2260.5" text-anchor="end" class="tk">2</text>
<line x1="51.3" y1="2222.5" x2="56.5" y2="2222.5" stroke="#000" stroke-width="1"/>
<text x="46.5" y="2227.5" text-anchor="end" class="tk">4</text>
<line x1="51.3" y1="2188.5" x2="56.5" y2="2188.5" stroke="#000" stroke-width="1"/>
<text x="46.5" y="2193.5" text-anchor="end" class="tk">6</text>
<line x1="51.3" y1="2155.5" x2="56.5" y2="2155.5" stroke="#000" stroke-width="1"/>
<text x="46.5" y="2160.5" text-anchor="end" class="tk">8</text>
<line x1="51.3" y1="2121.5" x2="56.5" y2="2121.5" stroke="#000" stroke-width="1"/>
<text x="45.1" y="2126.5" text-anchor="end" class="tk">10</text>
<text x="628.4" y="2398.5" text-anchor="middle">minute</text>
<rect x="1039.6" y="2120.5" width="155.7" height="24.9" rx="2.8" fill="#fff" fill-opacity="0.8" stroke="#ccc" stroke-width="1.1"/>
<line x1="1044.7" y1="2132" x2="1072.5" y2="2132" stroke="#1f77b4" stroke-width="2.1" stroke-dasharray="7.7 3.3"/>
<path d="M1057.1 2132.9h2.4l-1.2 1.4z" fill="#1f77b4"/>
<text x="1088.4" y="2137.2">Ws_E44_dydt2</text>
</svg></body></html>
